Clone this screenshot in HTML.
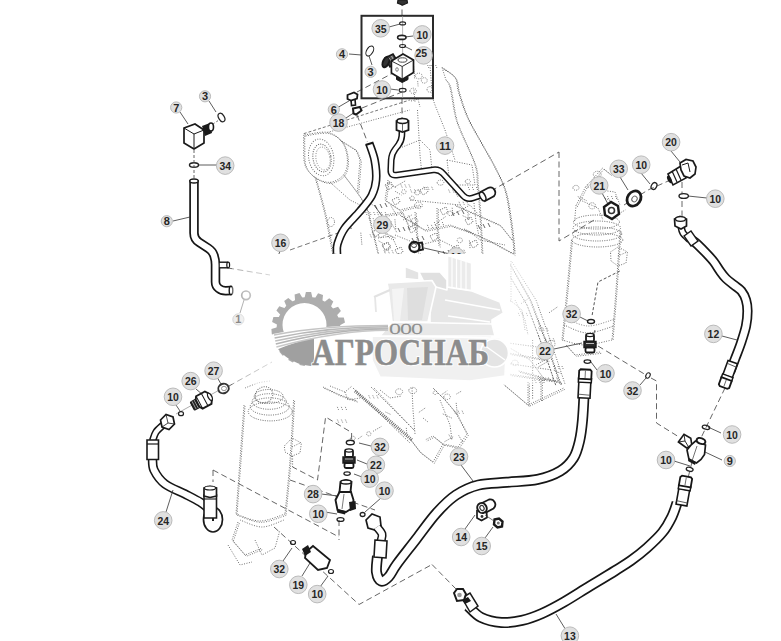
<!DOCTYPE html>
<html><head><meta charset="utf-8"><style>
html,body{margin:0;padding:0;background:#fff;width:781px;height:641px;overflow:hidden}
svg{display:block;font-family:"Liberation Sans",sans-serif}
</style></head><body>
<svg width="781" height="641" viewBox="0 0 781 641">
<rect width="781" height="641" fill="#fff"/>
<path d="M442.0,67.5 C444.2,69.2 452.2,73.3 455.0,77.5 C457.8,81.7 456.5,85.8 458.6,92.4 C460.7,99.1 463.4,108.7 467.4,117.4 C471.3,126.1 477.7,136.5 482.3,144.8 C486.9,153.1 491.1,159.8 494.8,167.3 C498.6,174.8 502.3,181.8 504.8,189.7 C507.3,197.6 508.4,206.6 509.8,215.0 C511.2,223.4 512.3,233.3 513.0,240.0 C513.7,246.7 513.8,252.5 514.0,255.0" fill="none" stroke="#555" stroke-width="1.0" stroke-dasharray="1,1.5"/>
<path d="M443.1,68.6 C445.3,70.3 453.4,74.5 456.1,78.6 C458.9,82.8 457.7,86.9 459.7,93.5 C461.8,100.2 464.6,109.8 468.5,118.5 C472.5,127.3 478.9,137.6 483.4,145.9 C488.0,154.2 492.2,160.9 495.9,168.4 C499.7,175.9 503.4,182.9 505.9,190.8 C508.4,198.8 509.6,207.7 510.9,216.1 C512.3,224.5 513.4,234.5 514.1,241.1 C514.8,247.8 515.0,253.6 515.1,256.1" fill="none" stroke="#555" stroke-width="1.0" stroke-dasharray="1,1.5"/>
<path d="M446.0,80.0 C446.7,81.2 448.5,81.6 450.0,87.4 C451.5,93.2 453.3,107.9 455.0,115.0 C456.7,122.1 456.7,121.7 460.0,130.0 C463.3,138.3 472.1,155.8 475.0,165.0 C477.9,174.2 476.6,176.7 477.4,185.0 C478.2,193.3 479.2,203.3 480.0,215.0 C480.8,226.7 481.7,248.3 482.0,255.0" fill="none" stroke="#707070" stroke-width="1.0" stroke-dasharray="1,1.5"/>
<path d="M447.0,81.0 C447.6,82.2 449.5,82.5 451.0,88.4 C452.5,94.2 454.3,108.9 456.0,116.0 C457.6,123.1 457.6,122.6 461.0,131.0 C464.3,139.3 473.1,156.8 476.0,166.0 C478.9,175.1 477.5,177.6 478.4,186.0 C479.2,194.3 480.2,204.3 481.0,216.0 C481.7,227.6 482.6,249.3 483.0,256.0" fill="none" stroke="#707070" stroke-width="1.0" stroke-dasharray="1,1.5"/>
<path d="M442.0,67.5 L446.0,80.0" fill="none" stroke="#707070" stroke-width="1.0" stroke-dasharray="1,1.5"/>
<path d="M430.0,65.0 L432.4,97.4 L435.0,105.0 L445.0,130.0 L455.0,160.0" fill="none" stroke="#707070" stroke-width="1.0" stroke-dasharray="1,1.5"/>
<path d="M417.5,110.0 L420.0,155.0 L422.0,175.0" fill="none" stroke="#707070" stroke-width="1.0" stroke-dasharray="1,1.5"/>
<path d="M447.0,160.0 L472.0,165.0 L475.0,185.0 L450.0,185.0 L447.0,160.0" fill="none" stroke="#707070" stroke-width="1.0" stroke-dasharray="1,1.5"/>
<path d="M411.0,101.0 L418.0,99.0 L420.0,107.0" fill="none" stroke="#707070" stroke-width="1.0" stroke-dasharray="1,1.5"/>
<path d="M303.7,135.0 C303.7,136.7 303.5,140.0 303.7,145.0 C303.9,150.0 303.1,159.6 305.0,165.0 C306.9,170.4 310.8,174.4 315.0,177.3 C319.2,180.2 325.2,182.7 330.0,182.3 C334.8,181.9 340.7,178.5 343.6,174.8 C346.5,171.1 347.6,165.4 347.4,160.0 C347.2,154.6 345.7,147.0 342.4,142.4 C339.1,137.8 333.8,133.6 327.4,132.4 C320.9,131.2 307.6,134.6 303.7,135.0" fill="none" stroke="#707070" stroke-width="1.0" stroke-dasharray="1,1.5"/>
<path d="M304.8,136.1 C304.8,137.7 304.5,141.1 304.8,146.1 C305.0,151.1 304.2,160.7 306.1,166.1 C307.9,171.4 311.9,175.5 316.1,178.4 C320.2,181.2 326.3,183.8 331.1,183.4 C335.8,182.9 341.8,179.6 344.7,175.9 C347.6,172.1 348.6,166.5 348.4,161.1 C348.2,155.7 346.8,148.1 343.4,143.5 C340.1,138.9 334.9,134.7 328.4,133.5 C322.0,132.2 308.7,135.6 304.8,136.1" fill="none" stroke="#707070" stroke-width="1.0" stroke-dasharray="1,1.5"/>
<ellipse cx="321.2" cy="157.4" rx="12.5" ry="18.5" transform="rotate(-10 321.2 157.4)" fill="none" stroke="#707070" stroke-width="1" stroke-dasharray="1,1.5"/>
<ellipse cx="322" cy="158" rx="9" ry="14" transform="rotate(-10 322 158)" fill="none" stroke="#606060" stroke-width="1" stroke-dasharray="1,1.3"/>
<ellipse cx="323" cy="158.5" rx="7" ry="11.5" transform="rotate(-10 323 158.5)" fill="none" stroke="#808080" stroke-width="0.9" stroke-dasharray="1,1.5"/>
<path d="M303.7,133.7 L409.8,100.0" fill="none" stroke="#777" stroke-width="1.0" stroke-dasharray="3,2"/>
<path d="M327.4,132.4 L409.8,110.0" fill="none" stroke="#777" stroke-width="1.0" stroke-dasharray="1,1.5"/>
<path d="M340.0,140.0 L356.0,150.0 L360.0,160.0 L357.4,192.3" fill="none" stroke="#707070" stroke-width="1.0" stroke-dasharray="1,1.5"/>
<path d="M341.3,141.3 L357.3,151.3 L361.3,161.3 L358.7,193.6" fill="none" stroke="#707070" stroke-width="1.0" stroke-dasharray="1,1.5"/>
<path d="M315.0,177.3 C316.7,183.6 321.9,201.1 325.0,214.8 C328.1,228.5 332.2,252.2 333.7,259.7" fill="none" stroke="#707070" stroke-width="1.0" stroke-dasharray="1,1.5"/>
<path d="M316.3,178.6 C317.9,184.8 323.1,202.3 326.3,216.1 C329.4,229.8 333.5,253.5 335.0,261.0" fill="none" stroke="#707070" stroke-width="1.0" stroke-dasharray="1,1.5"/>
<path d="M343.6,174.8 C347.2,179.8 360.2,195.6 364.9,204.8 C369.6,214.0 369.8,221.8 372.0,230.0 C374.2,238.2 377.0,250.0 378.0,254.0" fill="none" stroke="#707070" stroke-width="1.0" stroke-dasharray="1,1.5"/>
<path d="M344.5,175.7 C348.1,180.7 361.1,196.5 365.8,205.7 C370.5,214.9 370.7,222.7 372.9,230.9 C375.1,239.1 377.9,250.9 378.9,254.9" fill="none" stroke="#707070" stroke-width="1.0" stroke-dasharray="1,1.5"/>
<path d="M330.0,182.3 L350.0,200.0 L360.0,205.0" fill="none" stroke="#707070" stroke-width="1.0" stroke-dasharray="1,1.5"/>
<ellipse cx="331" cy="222" rx="3.5" ry="4.5" fill="none" stroke="#707070" stroke-width="1" stroke-dasharray="1,1.3"/>
<path d="M290.0,250.0 L352.0,228.0" fill="none" stroke="#666" stroke-width="0.9" stroke-dasharray="5,3"/>
<path d="M388.0,180.0 L385.0,200.0 L400.0,210.0 L420.0,205.0" fill="none" stroke="#707070" stroke-width="1.0" stroke-dasharray="1,1.5"/>
<path d="M389.3,181.3 L386.3,201.3 L401.3,211.3 L421.3,206.3" fill="none" stroke="#707070" stroke-width="1.0" stroke-dasharray="1,1.5"/>
<path d="M395.0,150.0 L420.0,140.0 L430.0,150.0 L432.0,170.0" fill="none" stroke="#707070" stroke-width="1.0" stroke-dasharray="1,1.5"/>
<path d="M385.0,215.0 L402.0,212.0 L408.0,225.0" fill="none" stroke="#707070" stroke-width="1.0" stroke-dasharray="1,1.5"/>
<path d="M386.3,216.3 L403.3,213.3 L409.3,226.3" fill="none" stroke="#707070" stroke-width="1.0" stroke-dasharray="1,1.5"/>
<path d="M400.0,215.0 L425.0,230.0 L450.0,225.0 L470.0,232.0" fill="none" stroke="#707070" stroke-width="1.0" stroke-dasharray="1,1.5"/>
<path d="M401.3,216.3 L426.3,231.3 L451.3,226.3 L471.3,233.3" fill="none" stroke="#707070" stroke-width="1.0" stroke-dasharray="1,1.5"/>
<path d="M410.0,200.0 L460.0,205.0 L470.0,215.0" fill="none" stroke="#707070" stroke-width="1.0" stroke-dasharray="1,1.5"/>
<path d="M395.0,235.0 L420.0,245.0 L440.0,240.0 L460.0,250.0" fill="none" stroke="#707070" stroke-width="1.0" stroke-dasharray="1,1.5"/>
<path d="M378.0,238.0 L392.0,236.0 L398.0,250.0" fill="none" stroke="#707070" stroke-width="1.0" stroke-dasharray="1,1.5"/>
<path d="M455.0,205.0 L500.0,225.0 L512.0,240.0" fill="none" stroke="#707070" stroke-width="1.0" stroke-dasharray="1,1.5"/>
<path d="M456.3,206.3 L501.3,226.3 L513.3,241.3" fill="none" stroke="#707070" stroke-width="1.0" stroke-dasharray="1,1.5"/>
<path d="M470.0,232.0 L480.0,240.0 L505.0,245.0" fill="none" stroke="#707070" stroke-width="1.0" stroke-dasharray="1,1.5"/>
<path d="M372,232 l6,-3 l2,5 l-5,3 z" fill="none" stroke="#666" stroke-width="1" stroke-dasharray="1,1.2"/>
<path d="M382,245 l6,-3 l2,5 l-5,3 z" fill="none" stroke="#666" stroke-width="1" stroke-dasharray="1,1.2"/>
<path d="M430,236 l6,-3 l2,5 l-5,3 z" fill="none" stroke="#666" stroke-width="1" stroke-dasharray="1,1.2"/>
<path d="M452,248 l6,-3 l2,5 l-5,3 z" fill="none" stroke="#666" stroke-width="1" stroke-dasharray="1,1.2"/>
<path d="M392,200 l6,-3 l2,5 l-5,3 z" fill="none" stroke="#666" stroke-width="1" stroke-dasharray="1,1.2"/>
<path d="M470,243 l6,-3 l2,5 l-5,3 z" fill="none" stroke="#666" stroke-width="1" stroke-dasharray="1,1.2"/>
<path d="M420,190 l6,-3 l2,5 l-5,3 z" fill="none" stroke="#666" stroke-width="1" stroke-dasharray="1,1.2"/>
<path d="M408,228 l6,-3 l2,5 l-5,3 z" fill="none" stroke="#666" stroke-width="1" stroke-dasharray="1,1.2"/>
<path d="M440,210 l6,-3 l2,5 l-5,3 z" fill="none" stroke="#666" stroke-width="1" stroke-dasharray="1,1.2"/>
<path d="M395,250 l6,-3 l2,5 l-5,3 z" fill="none" stroke="#666" stroke-width="1" stroke-dasharray="1,1.2"/>
<path d="M465,220 l6,-3 l2,5 l-5,3 z" fill="none" stroke="#666" stroke-width="1" stroke-dasharray="1,1.2"/>
<path d="M385,185 l6,-3 l2,5 l-5,3 z" fill="none" stroke="#666" stroke-width="1" stroke-dasharray="1,1.2"/>
<path d="M375,205 l2,4 m3,-5 l2,4 m3,-5 l2,4" fill="none" stroke="#555" stroke-width="0.9"/>
<path d="M398,228 l2,4 m3,-5 l2,4 m3,-5 l2,4" fill="none" stroke="#555" stroke-width="0.9"/>
<path d="M452,212 l2,4 m3,-5 l2,4 m3,-5 l2,4" fill="none" stroke="#555" stroke-width="0.9"/>
<path d="M478,225 l2,4 m3,-5 l2,4 m3,-5 l2,4" fill="none" stroke="#555" stroke-width="0.9"/>
<path d="M412,238 l2,4 m3,-5 l2,4 m3,-5 l2,4" fill="none" stroke="#555" stroke-width="0.9"/>
<path d="M438,252 l2,4 m3,-5 l2,4 m3,-5 l2,4" fill="none" stroke="#555" stroke-width="0.9"/>
<path d="M388,255 l2,4 m3,-5 l2,4 m3,-5 l2,4" fill="none" stroke="#555" stroke-width="0.9"/>
<path d="M410.5,189.5 l1.5,3.5 m2.5,-3.5 l1.5,3.5 m2.5,-3.5 l1.5,3.5 M388.4,218.7 l2.8,4.8 M400.9,184.5 l1.5,3.5 m2.5,-3.5 l1.5,3.5 m2.5,-3.5 l1.5,3.5 M403.2,219.9 l8.7,-5.0 M437.5,222.3 l8.4,-5.9 M465.3,181.5 a2.6,2.1 0 1,0 5.2,0 a2.6,2.1 0 1,0 -5.2,0 M394.7,187.0 l10.7,-6.2 M391.1,221.4 l0.5,5.9 M387.5,182.5 l9.6,5.6 M447.7,213.4 a2.7,2.2 0 1,0 5.4,0 a2.7,2.2 0 1,0 -5.4,0 M401.7,191.7 a2.2,1.7 0 1,0 4.3,0 a2.2,1.7 0 1,0 -4.3,0 M408.4,215.6 l4.5,7.8 M468.3,187.0 l1.5,3.5 m2.5,-3.5 l1.5,3.5 m2.5,-3.5 l1.5,3.5 M448.6,189.6 l1.5,3.5 m2.5,-3.5 l1.5,3.5 m2.5,-3.5 l1.5,3.5 M382.3,228.8 a3.1,2.5 0 1,0 6.3,0 a3.1,2.5 0 1,0 -6.3,0 M459.0,201.8 l1.5,3.5 m2.5,-3.5 l1.5,3.5 m2.5,-3.5 l1.5,3.5 M434.3,222.1 l1.5,3.5 m2.5,-3.5 l1.5,3.5 m2.5,-3.5 l1.5,3.5 M455.9,249.8 l1.5,3.5 m2.5,-3.5 l1.5,3.5 m2.5,-3.5 l1.5,3.5 M437.2,182.6 a3.3,2.6 0 1,0 6.6,0 a3.3,2.6 0 1,0 -6.6,0 M469.4,240.5 l0.7,8.4 M412.5,249.5 l9.1,5.2 M387.2,236.4 l6.3,3.6 M462.7,215.7 l7.8,3.6 M457.2,240.3 a2.6,2.0 0 1,0 5.1,0 a2.6,2.0 0 1,0 -5.1,0 M414.6,205.3 a3.9,3.1 0 1,0 7.8,0 a3.9,3.1 0 1,0 -7.8,0 M395.3,191.4 l6.1,3.6 M455.1,191.9 l3.2,5.5 M411.1,221.0 a3.4,2.7 0 1,0 6.8,0 a3.4,2.7 0 1,0 -6.8,0 M427.4,224.9 l1.5,3.5 m2.5,-3.5 l1.5,3.5 m2.5,-3.5 l1.5,3.5 M383.0,246.4 a3.7,3.0 0 1,0 7.5,0 a3.7,3.0 0 1,0 -7.5,0 M452.2,207.8 l0.5,5.9 M414.4,192.5 a2.9,2.3 0 1,0 5.8,0 a2.9,2.3 0 1,0 -5.8,0 M391.7,223.7 l5.1,8.7 M390.9,205.6 l6.4,11.1 M411.9,226.2 a3.2,2.6 0 1,0 6.4,0 a3.2,2.6 0 1,0 -6.4,0 M423.7,186.8 l1.5,3.5 m2.5,-3.5 l1.5,3.5 m2.5,-3.5 l1.5,3.5 M468.0,214.5 l0.5,6.3 M409.8,198.1 a2.3,1.9 0 1,0 4.6,0 a2.3,1.9 0 1,0 -4.6,0 M384.0,250.3 l1.5,3.5 m2.5,-3.5 l1.5,3.5 m2.5,-3.5 l1.5,3.5 M394.9,219.3 l0.9,9.7" fill="none" stroke="#6a6a6a" stroke-width="0.9" stroke-dasharray="1,1.2"/>
<path d="M464.0,229.0 L490.0,241.0 L514.0,254.0" fill="none" stroke="#666" stroke-width="1.0" stroke-dasharray="1,1.5"/>
<path d="M465.3,230.3 L491.3,242.3 L515.3,255.3" fill="none" stroke="#666" stroke-width="1.0" stroke-dasharray="1,1.5"/>
<path d="M415.0,212.0 L416.0,230.0 L418.0,248.0" fill="none" stroke="#707070" stroke-width="1.0" stroke-dasharray="1,1.5"/>
<path d="M416.3,213.3 L417.3,231.3 L419.3,249.3" fill="none" stroke="#707070" stroke-width="1.0" stroke-dasharray="1,1.5"/>
<path d="M437.0,208.0 L437.0,228.0 L439.0,246.0" fill="none" stroke="#707070" stroke-width="1.0" stroke-dasharray="1,1.5"/>
<path d="M438.3,209.3 L438.3,229.3 L440.3,247.3" fill="none" stroke="#707070" stroke-width="1.0" stroke-dasharray="1,1.5"/>
<path d="M474.0,203.0 L476.0,222.0 L479.0,236.0" fill="none" stroke="#707070" stroke-width="1.0" stroke-dasharray="1,1.5"/>
<path d="M452.0,215.0 L470.0,205.0 L478.0,214.0" fill="none" stroke="#707070" stroke-width="1.0" stroke-dasharray="1,1.5"/>
<path d="M380.9,237.6 l7.2,-4.2 M365.7,212.0 l1.5,3.5 m2.5,-3.5 l1.5,3.5 m2.5,-3.5 l1.5,3.5 M370.1,234.4 l1.5,3.5 m2.5,-3.5 l1.5,3.5 m2.5,-3.5 l1.5,3.5 M378.7,240.9 l6.2,3.6 M377.2,212.2 l1.5,3.5 m2.5,-3.5 l1.5,3.5 m2.5,-3.5 l1.5,3.5 M365.7,201.6 l6.8,3.2 M360.8,232.7 l1.1,12.2 M384.6,251.6 l6.0,-3.5 M369.1,218.2 l1.5,3.5 m2.5,-3.5 l1.5,3.5 m2.5,-3.5 l1.5,3.5 M384.6,233.0 l11.9,5.6" fill="none" stroke="#6a6a6a" stroke-width="0.9" stroke-dasharray="1,1.2"/>
<path d="M427.6,65.0 l1.5,3.5 m2.5,-3.5 l1.5,3.5 m2.5,-3.5 l1.5,3.5 M427.1,89.4 a3.0,2.4 0 1,0 5.9,0 a3.0,2.4 0 1,0 -5.9,0 M413.9,89.6 l1.1,12.2 M415.3,76.0 a3.4,2.8 0 1,0 6.9,0 a3.4,2.8 0 1,0 -6.9,0 M413.7,66.4 l1.1,13.1 M409.9,90.9 a3.3,2.7 0 1,0 6.6,0 a3.3,2.7 0 1,0 -6.6,0 M417.7,81.2 l0.4,5.1 M421.4,80.4 a2.9,2.3 0 1,0 5.7,0 a2.9,2.3 0 1,0 -5.7,0" fill="none" stroke="#6a6a6a" stroke-width="0.9" stroke-dasharray="1,1.2"/>
<path d="M553.8,370.2 l6.6,3.1 M536.1,364.9 l8.6,-4.9 M511.6,362.9 a3.3,2.7 0 1,0 6.6,0 a3.3,2.7 0 1,0 -6.6,0 M547.4,343.9 a3.8,3.0 0 1,0 7.5,0 a3.8,3.0 0 1,0 -7.5,0 M518.3,312.9 l1.5,3.5 m2.5,-3.5 l1.5,3.5 m2.5,-3.5 l1.5,3.5 M553.9,366.0 l1.5,3.5 m2.5,-3.5 l1.5,3.5 m2.5,-3.5 l1.5,3.5 M549.2,312.7 l8.7,-6.1 M538.7,327.7 l1.5,3.5 m2.5,-3.5 l1.5,3.5 m2.5,-3.5 l1.5,3.5 M538.7,366.7 l8.7,-5.0 M521.2,303.6 l7.4,-5.2 M548.5,377.6 l1.5,3.5 m2.5,-3.5 l1.5,3.5 m2.5,-3.5 l1.5,3.5 M541.4,343.0 l1.5,3.5 m2.5,-3.5 l1.5,3.5 m2.5,-3.5 l1.5,3.5 M545.3,338.4 l1.5,3.5 m2.5,-3.5 l1.5,3.5 m2.5,-3.5 l1.5,3.5 M534.9,380.0 l1.5,3.5 m2.5,-3.5 l1.5,3.5 m2.5,-3.5 l1.5,3.5" fill="none" stroke="#6a6a6a" stroke-width="0.9" stroke-dasharray="1,1.2"/>
<path d="M444.6,441.7 l8.7,-5.0 M440.0,395.8 l7.4,-5.2 M418.9,412.4 l6.3,-4.4 M443.8,396.8 a3.3,2.7 0 1,0 6.6,0 a3.3,2.7 0 1,0 -6.6,0 M350.4,438.3 a2.4,2.0 0 1,0 4.9,0 a2.4,2.0 0 1,0 -4.9,0 M454.1,410.7 l1.5,3.5 m2.5,-3.5 l1.5,3.5 m2.5,-3.5 l1.5,3.5 M458.7,435.4 l4.4,7.7 M385.5,412.0 l5.3,2.5 M337.4,419.6 l1.5,3.5 m2.5,-3.5 l1.5,3.5 m2.5,-3.5 l1.5,3.5 M337.3,406.9 l1.5,3.5 m2.5,-3.5 l1.5,3.5 m2.5,-3.5 l1.5,3.5 M395.5,391.7 a3.6,2.9 0 1,0 7.2,0 a3.6,2.9 0 1,0 -7.2,0 M456.5,394.0 l4.6,-2.7 M368.8,395.4 l1.5,3.5 m2.5,-3.5 l1.5,3.5 m2.5,-3.5 l1.5,3.5 M448.9,434.7 l3.2,5.5 M406.3,427.9 l0.5,5.5 M357.9,439.0 l4.2,-3.0 M433.1,392.8 a2.1,1.7 0 1,0 4.3,0 a2.1,1.7 0 1,0 -4.3,0 M442.8,413.9 l9.0,4.2 M408.8,390.5 a3.9,3.1 0 1,0 7.8,0 a3.9,3.1 0 1,0 -7.8,0 M456.2,402.9 l1.2,13.3 M373.1,431.3 l8.2,-4.8 M366.7,433.8 a2.1,1.7 0 1,0 4.1,0 a2.1,1.7 0 1,0 -4.1,0" fill="none" stroke="#6a6a6a" stroke-width="0.9" stroke-dasharray="1,1.2"/>
<path d="M572.9,187.8 a3.0,2.4 0 1,0 6.1,0 a3.0,2.4 0 1,0 -6.1,0 M587.3,184.6 l1.5,3.5 m2.5,-3.5 l1.5,3.5 m2.5,-3.5 l1.5,3.5 M607.5,196.1 l1.5,3.5 m2.5,-3.5 l1.5,3.5 m2.5,-3.5 l1.5,3.5 M619.4,213.4 l6.0,-3.5 M588.9,205.8 a3.3,2.6 0 1,0 6.5,0 a3.3,2.6 0 1,0 -6.5,0 M595.2,179.1 l5.1,-3.5 M606.3,208.4 l1.5,3.5 m2.5,-3.5 l1.5,3.5 m2.5,-3.5 l1.5,3.5 M577.8,196.6 l8.7,4.0 M604.9,198.1 l6.0,2.8 M593.3,174.5 a3.9,3.2 0 1,0 7.9,0 a3.9,3.2 0 1,0 -7.9,0" fill="none" stroke="#6a6a6a" stroke-width="0.9" stroke-dasharray="1,1.2"/>
<path d="M323.0,387.0 L340.0,395.0 L357.0,401.0" fill="none" stroke="#707070" stroke-width="1.0" stroke-dasharray="1,1.5"/>
<path d="M324.3,388.3 L341.3,396.3 L358.3,402.3" fill="none" stroke="#707070" stroke-width="1.0" stroke-dasharray="1,1.5"/>
<path d="M330.0,386.0 L345.0,392.0 L352.0,386.0" fill="none" stroke="#707070" stroke-width="1.0" stroke-dasharray="1,1.5"/>
<path d="M355,391 L412,440" stroke="#666" stroke-width="3.2" stroke-dasharray="0.9,1.1" fill="none"/>
<path d="M353.0,388.0 L410.0,443.0" fill="none" stroke="#555" stroke-width="1.0" stroke-dasharray="1,1.5"/>
<path d="M371.0,387.0 L415.0,431.0" fill="none" stroke="#666" stroke-width="1.0" stroke-dasharray="1,1.5"/>
<path d="M374.0,388.0 L395.0,410.0 L415.0,431.0" fill="none" stroke="#707070" stroke-width="1.0" stroke-dasharray="1,1.5"/>
<path d="M412.0,388.0 L413.0,410.0 L415.0,434.0" fill="none" stroke="#707070" stroke-width="1.0" stroke-dasharray="1,1.5"/>
<path d="M410.0,439.0 L420.0,452.0 L433.0,462.0 L443.0,444.0 L433.0,436.0 L425.0,440.0" fill="none" stroke="#707070" stroke-width="1.0" stroke-dasharray="1,1.5"/>
<path d="M411.3,440.3 L421.3,453.3 L434.3,463.3 L444.3,445.3 L434.3,437.3 L426.3,441.3" fill="none" stroke="#707070" stroke-width="1.0" stroke-dasharray="1,1.5"/>
<path d="M433.0,388.0 L445.0,400.0 L456.0,413.0 L467.0,434.0 L458.0,447.0 L443.0,444.0" fill="none" stroke="#707070" stroke-width="1.0" stroke-dasharray="1,1.5"/>
<path d="M434.3,389.3 L446.3,401.3 L457.3,414.3 L468.3,435.3 L459.3,448.3 L444.3,445.3" fill="none" stroke="#707070" stroke-width="1.0" stroke-dasharray="1,1.5"/>
<path d="M440.0,400.0 L450.0,425.0 L452.0,440.0" fill="none" stroke="#707070" stroke-width="1.0" stroke-dasharray="1,1.5"/>
<path d="M380.0,390.0 L390.0,398.0 L402.0,396.0" fill="none" stroke="#707070" stroke-width="1.0" stroke-dasharray="1,1.5"/>
<path d="M345.0,392.0 L348.0,400.0 L360.0,398.0" fill="none" stroke="#707070" stroke-width="1.0" stroke-dasharray="1,1.5"/>
<path d="M423.0,418.0 L428.0,422.0" fill="none" stroke="#707070" stroke-width="1.0" stroke-dasharray="1,1.5"/>
<path d="M508.0,261.0 L530.0,300.0 L545.0,340.0 L560.0,384.0" fill="none" stroke="#555" stroke-width="1.0" stroke-dasharray="1,1.5"/>
<path d="M509.3,262.3 L531.3,301.3 L546.3,341.3 L561.3,385.3" fill="none" stroke="#555" stroke-width="1.0" stroke-dasharray="1,1.5"/>
<path d="M505.0,268.0 L527.0,305.0 L542.0,345.0 L556.0,386.0" fill="none" stroke="#666" stroke-width="1.0" stroke-dasharray="2,1"/>
<path d="M512.0,262.0 L536.0,300.0 L552.0,345.0 L565.0,384.0" fill="none" stroke="#707070" stroke-width="1.0" stroke-dasharray="1,1.5"/>
<path d="M511.0,261.0 L511.0,302.0" fill="none" stroke="#707070" stroke-width="1.0" stroke-dasharray="1,1.5"/>
<path d="M503.7,384.4 L528.0,405.0 L563.7,388.0" fill="none" stroke="#707070" stroke-width="1.0" stroke-dasharray="1,1.5"/>
<path d="M505.0,385.7 L529.3,406.3 L565.0,389.3" fill="none" stroke="#707070" stroke-width="1.0" stroke-dasharray="1,1.5"/>
<path d="M528.0,382.0 L528.0,405.0" fill="none" stroke="#707070" stroke-width="1.0" stroke-dasharray="1,1.5"/>
<path d="M529.3,383.3 L529.3,406.3" fill="none" stroke="#707070" stroke-width="1.0" stroke-dasharray="1,1.5"/>
<path d="M541.0,378.7 L541.0,401.0" fill="none" stroke="#707070" stroke-width="1.0" stroke-dasharray="1,1.5"/>
<path d="M542.3,380.0 L542.3,402.3" fill="none" stroke="#707070" stroke-width="1.0" stroke-dasharray="1,1.5"/>
<path d="M518.7,371.0 L561.8,382.5" fill="none" stroke="#707070" stroke-width="1.0" stroke-dasharray="1,1.5"/>
<path d="M520.0,372.3 L563.1,383.8" fill="none" stroke="#707070" stroke-width="1.0" stroke-dasharray="1,1.5"/>
<path d="M508.0,343.0 L545.0,348.0 L552.0,352.0" fill="none" stroke="#707070" stroke-width="1.0" stroke-dasharray="1,1.5"/>
<path d="M508.0,353.0 L548.0,360.0" fill="none" stroke="#707070" stroke-width="1.0" stroke-dasharray="1,1.5"/>
<path d="M509.3,354.3 L549.3,361.3" fill="none" stroke="#707070" stroke-width="1.0" stroke-dasharray="1,1.5"/>
<path d="M508.0,363.5 L552.0,370.0" fill="none" stroke="#707070" stroke-width="1.0" stroke-dasharray="1,1.5"/>
<path d="M508.0,374.0 L556.0,381.0" fill="none" stroke="#707070" stroke-width="1.0" stroke-dasharray="1,1.5"/>
<path d="M509.3,375.3 L557.3,382.3" fill="none" stroke="#707070" stroke-width="1.0" stroke-dasharray="1,1.5"/>
<path d="M532.6,340.0 L532.6,400.0" fill="none" stroke="#707070" stroke-width="1.0" stroke-dasharray="1,1.5"/>
<path d="M510.0,300.0 L522.0,310.0 L525.0,330.0" fill="none" stroke="#707070" stroke-width="1.0" stroke-dasharray="1,1.5"/>
<path d="M505.0,345.0 L530.0,360.0 L545.0,380.0" fill="none" stroke="#707070" stroke-width="1.0" stroke-dasharray="1,1.5"/>
<path d="M515.0,300.0 L525.0,320.0 L528.0,335.0" fill="none" stroke="#707070" stroke-width="1.0" stroke-dasharray="1,1.5"/>
<path d="M571.5,240.0 C570.8,248.3 568.6,273.3 567.0,290.0 C565.4,306.7 562.8,331.7 562.0,340.0" fill="none" stroke="#707070" stroke-width="1.0" stroke-dasharray="1,1.5"/>
<path d="M572.5,241.0 C571.7,249.3 569.6,274.3 568.0,291.0 C566.4,307.6 563.8,332.6 563.0,341.0" fill="none" stroke="#707070" stroke-width="1.0" stroke-dasharray="1,1.5"/>
<path d="M620.0,230.5 C619.3,240.4 617.3,271.8 616.0,290.0 C614.7,308.2 612.7,331.7 612.0,340.0" fill="none" stroke="#707070" stroke-width="1.0" stroke-dasharray="1,1.5"/>
<path d="M621.0,231.5 C620.3,241.4 618.3,272.7 617.0,291.0 C615.6,309.2 613.6,332.6 613.0,341.0" fill="none" stroke="#707070" stroke-width="1.0" stroke-dasharray="1,1.5"/>
<ellipse cx="596.5" cy="222" rx="23.0" ry="7" fill="none" stroke="#666" stroke-width="1" stroke-dasharray="1,1.3"/>
<ellipse cx="596.8" cy="228" rx="23.8" ry="7" fill="none" stroke="#666" stroke-width="1" stroke-dasharray="1,1.3"/>
<ellipse cx="597.1" cy="234" rx="24.6" ry="7" fill="none" stroke="#666" stroke-width="1" stroke-dasharray="1,1.3"/>
<ellipse cx="597.4" cy="240" rx="25.4" ry="7" fill="none" stroke="#666" stroke-width="1" stroke-dasharray="1,1.3"/>
<path d="M585.5,187.0 L602.7,168.0 L610.5,174.3" fill="none" stroke="#707070" stroke-width="1.0" stroke-dasharray="1,1.5"/>
<path d="M586.8,188.3 L604.0,169.3 L611.8,175.6" fill="none" stroke="#707070" stroke-width="1.0" stroke-dasharray="1,1.5"/>
<path d="M576.0,205.5 L585.5,187.0" fill="none" stroke="#707070" stroke-width="1.0" stroke-dasharray="1,1.5"/>
<path d="M577.3,206.8 L586.8,188.3" fill="none" stroke="#707070" stroke-width="1.0" stroke-dasharray="1,1.5"/>
<path d="M574.6,221.0 L576.0,205.5" fill="none" stroke="#707070" stroke-width="1.0" stroke-dasharray="1,1.5"/>
<path d="M600.0,190.0 L615.0,192.0 L620.0,205.0" fill="none" stroke="#707070" stroke-width="1.0" stroke-dasharray="1,1.5"/>
<path d="M580.0,200.0 L598.0,208.0 L603.0,220.0" fill="none" stroke="#707070" stroke-width="1.0" stroke-dasharray="1,1.5"/>
<path d="M610.5,252.0 L618.0,247.0 L627.5,252.0 L626.0,263.0 L618.0,266.0 L611.0,261.0 L610.5,252.0" fill="none" stroke="#707070" stroke-width="1.0" stroke-dasharray="1,1.5"/>
<path d="M618.0,256.0 L627.0,252.0" fill="none" stroke="#707070" stroke-width="1.0" stroke-dasharray="1,1.5"/>
<path d="M619.8,271.0 L598.0,282.0 L591.8,317.0" fill="none" stroke="#555" stroke-width="1.0" stroke-dasharray="3,2"/>
<path d="M562.0,340.0 C565.8,340.8 576.7,345.0 585.0,345.0 C593.3,345.0 607.5,340.8 612.0,340.0" fill="none" stroke="#707070" stroke-width="1.0" stroke-dasharray="1,1.5"/>
<path d="M564.0,325.0 C567.8,326.3 578.7,332.8 587.0,333.0 C595.3,333.2 609.5,327.2 614.0,326.0" fill="none" stroke="#707070" stroke-width="1.0" stroke-dasharray="1,1.5"/>
<path d="M565.0,318.0 C568.8,319.3 579.7,325.8 588.0,326.0 C596.3,326.2 610.5,320.2 615.0,319.0" fill="none" stroke="#888" stroke-width="1.0" stroke-dasharray="1,1.5"/>
<path d="M566.0,345.0 L575.0,355.0 L600.0,352.0" fill="none" stroke="#707070" stroke-width="1.0" stroke-dasharray="1,1.5"/>
<path d="M567.3,346.3 L576.3,356.3 L601.3,353.3" fill="none" stroke="#707070" stroke-width="1.0" stroke-dasharray="1,1.5"/>
<path d="M244.0,405.0 C243.3,414.2 241.3,441.8 240.0,460.0 C238.7,478.2 236.7,505.0 236.0,514.0" fill="none" stroke="#707070" stroke-width="1.0" stroke-dasharray="1,1.5"/>
<path d="M245.0,406.0 C244.3,415.1 242.3,442.8 241.0,461.0 C239.6,479.1 237.6,506.0 237.0,515.0" fill="none" stroke="#707070" stroke-width="1.0" stroke-dasharray="1,1.5"/>
<path d="M293.6,400.0 C293.0,410.0 291.4,441.0 290.0,460.0 C288.6,479.0 285.8,505.0 285.0,514.0" fill="none" stroke="#707070" stroke-width="1.0" stroke-dasharray="1,1.5"/>
<path d="M294.6,401.0 C294.0,411.0 292.4,442.0 291.0,461.0 C289.5,480.0 286.8,506.0 286.0,515.0" fill="none" stroke="#707070" stroke-width="1.0" stroke-dasharray="1,1.5"/>
<path d="M236.0,514.0 C240.0,515.2 251.8,521.0 260.0,521.0 C268.2,521.0 280.8,515.2 285.0,514.0" fill="none" stroke="#707070" stroke-width="1.0" stroke-dasharray="1,1.5"/>
<path d="M237.3,515.3 C241.3,516.4 253.1,522.3 261.3,522.3 C269.4,522.3 282.1,516.4 286.3,515.3" fill="none" stroke="#707070" stroke-width="1.0" stroke-dasharray="1,1.5"/>
<ellipse cx="270.2" cy="411.5" rx="22.0" ry="9.4" fill="none" stroke="#666" stroke-width="1" stroke-dasharray="1,1.3"/>
<ellipse cx="269.7" cy="406.5" rx="19.5" ry="8.6" fill="none" stroke="#666" stroke-width="1" stroke-dasharray="1,1.3"/>
<ellipse cx="269.2" cy="401.5" rx="17.0" ry="7.800000000000001" fill="none" stroke="#666" stroke-width="1" stroke-dasharray="1,1.3"/>
<ellipse cx="268.7" cy="396.5" rx="14.5" ry="7.0" fill="none" stroke="#666" stroke-width="1" stroke-dasharray="1,1.3"/>
<ellipse cx="264" cy="395" rx="9" ry="8" transform="rotate(-30 264 395)" fill="none" stroke="#666" stroke-width="1" stroke-dasharray="1,1.3"/>
<path d="M245.0,388.0 C247.2,387.2 253.8,384.2 258.0,383.0 C262.2,381.8 268.0,381.3 270.0,381.0" fill="none" stroke="#707070" stroke-width="1.0" stroke-dasharray="1,1.5"/>
<path d="M284.3,446.0 L292.0,438.0 L301.4,443.0 L300.0,453.0 L292.0,456.0 L285.0,452.0 L284.3,446.0" fill="none" stroke="#707070" stroke-width="1.0" stroke-dasharray="1,1.5"/>
<path d="M292.0,447.0 L300.0,443.0" fill="none" stroke="#707070" stroke-width="1.0" stroke-dasharray="1,1.5"/>
<path d="M238.0,522.0 L232.0,540.0 L245.0,555.0 L262.0,548.0" fill="none" stroke="#707070" stroke-width="1.0" stroke-dasharray="1,1.5"/>
<path d="M239.3,523.3 L233.3,541.3 L246.3,556.3 L263.3,549.3" fill="none" stroke="#707070" stroke-width="1.0" stroke-dasharray="1,1.5"/>
<path d="M255.0,540.0 L262.0,555.0 L275.0,548.0 L280.0,530.0" fill="none" stroke="#707070" stroke-width="1.0" stroke-dasharray="1,1.5"/>
<path d="M228.0,545.0 L240.0,565.0 L252.0,562.0" fill="none" stroke="#707070" stroke-width="1.0" stroke-dasharray="1,1.5"/>
<path d="M240.0,520.0 C243.7,521.2 254.7,527.0 262.0,527.0 C269.3,527.0 280.3,521.2 284.0,520.0" fill="none" stroke="#707070" stroke-width="1.0" stroke-dasharray="1,1.5"/>
<path d="M402.0,0.0 L402.0,16.0" fill="none" stroke="#555" stroke-width="0.9" stroke-dasharray="6,3.5"/>
<path d="M402.0,98.0 L402.0,118.0" fill="none" stroke="#555" stroke-width="0.9" stroke-dasharray="6,3.5"/>
<path d="M357.0,92.0 L395.0,72.0" fill="none" stroke="#555" stroke-width="0.9" stroke-dasharray="6,3.5"/>
<path d="M362.0,108.0 L402.0,92.0" fill="none" stroke="#555" stroke-width="0.9" stroke-dasharray="6,3.5"/>
<path d="M357.0,115.0 L367.5,142.0" fill="none" stroke="#555" stroke-width="0.9" stroke-dasharray="6,3.5"/>
<path d="M491.0,191.0 L559.0,152.0" fill="none" stroke="#555" stroke-width="0.9" stroke-dasharray="6,3.5"/>
<path d="M559.0,152.0 L559.0,241.0 L595.0,219.5" fill="none" stroke="#555" stroke-width="0.9" stroke-dasharray="6,3.5"/>
<path d="M624.0,205.0 L648.0,190.0 L675.0,178.0" fill="none" stroke="#555" stroke-width="0.9" stroke-dasharray="6,3.5"/>
<path d="M682.0,182.0 L682.0,218.0" fill="none" stroke="#555" stroke-width="0.9" stroke-dasharray="6,3.5"/>
<path d="M228.0,268.0 L270.0,275.0" fill="none" stroke="#555" stroke-width="0.9" stroke-dasharray="6,3.5"/>
<path d="M595.0,330.0 L592.0,340.0" fill="none" stroke="#555" stroke-width="0.9" stroke-dasharray="6,3.5"/>
<path d="M598.0,346.0 L646.0,375.0" fill="none" stroke="#555" stroke-width="0.9" stroke-dasharray="6,3.5"/>
<ellipse cx="648" cy="375.5" rx="2" ry="2.8" transform="rotate(30 648 375.5)" fill="none" stroke="#222" stroke-width="1.1"/>
<path d="M651.0,378.0 L656.5,381.0 L656.5,423.0 L679.0,437.0" fill="none" stroke="#555" stroke-width="0.9" stroke-dasharray="6,3.5"/>
<path d="M725.0,388.0 L700.0,440.0" fill="none" stroke="#555" stroke-width="0.9" stroke-dasharray="6,3.5"/>
<path d="M692.0,462.0 L688.0,478.0" fill="none" stroke="#555" stroke-width="0.9" stroke-dasharray="6,3.5"/>
<path d="M229.0,386.0 L272.0,362.0" fill="none" stroke="#555" stroke-width="0.9" stroke-dasharray="6,3.5"/>
<path d="M290.0,480.0 L375.0,510.0" fill="none" stroke="#555" stroke-width="0.9" stroke-dasharray="6,3.5"/>
<path d="M351.6,439.0 L351.6,432.5 L325.6,417.0 L317.5,480.0 L292.6,467.0" fill="none" stroke="#555" stroke-width="0.9" stroke-dasharray="6,3.5"/>
<path d="M292.6,467.0 L292.6,455.0" fill="none" stroke="#707070" stroke-width="1.0" stroke-dasharray="1,1.5"/>
<path d="M213.0,470.0 L213.0,482.0" fill="none" stroke="#555" stroke-width="0.9" stroke-dasharray="6,3.5"/>
<path d="M213.0,470.0 L339.0,537.0" fill="none" stroke="#555" stroke-width="0.9" stroke-dasharray="6,3.5"/>
<path d="M339.0,520.0 L339.0,540.0" fill="none" stroke="#555" stroke-width="0.9" stroke-dasharray="6,3.5"/>
<path d="M274.0,527.0 L359.0,604.5 L432.0,564.5" fill="none" stroke="#555" stroke-width="0.9" stroke-dasharray="6,3.5"/>
<path d="M432.0,564.5 L457.0,590.0" fill="none" stroke="#555" stroke-width="0.9" stroke-dasharray="6,3.5"/>
<path d="M194.0,180.0 L194.0,233.0 Q194.0,239.0 199.0,242.3 L208.5,248.4 Q212.5,251.0 214.0,255.5 L214.0,255.5 Q215.5,260.0 215.5,264.7 L215.5,281.9 Q215.5,286.0 218.8,288.5 L218.8,288.5 Q222.0,291.0 226.1,290.8 L231.0,290.5" fill="none" stroke="#161616" stroke-width="9.5" stroke-linecap="butt" stroke-linejoin="round"/>
<path d="M194.0,180.0 L194.0,233.0 Q194.0,239.0 199.0,242.3 L208.5,248.4 Q212.5,251.0 214.0,255.5 L214.0,255.5 Q215.5,260.0 215.5,264.7 L215.5,281.9 Q215.5,286.0 218.8,288.5 L218.8,288.5 Q222.0,291.0 226.1,290.8 L231.0,290.5" fill="none" stroke="#fff" stroke-width="6.1" stroke-linecap="butt" stroke-linejoin="round"/>
<ellipse cx="194" cy="181" rx="4.2" ry="2" fill="#fff" stroke="#161616" stroke-width="1.3"/>
<ellipse cx="231" cy="290.5" rx="1.8" ry="4.2" fill="#fff" stroke="#161616" stroke-width="1.4"/>
<path d="M220,262.3 L228,262.3 M220,267.7 L228,267.7" stroke="#161616" stroke-width="1.4"/>
<rect x="219.8" y="262.9" width="8.3" height="4.2" fill="#fff"/>
<ellipse cx="228.2" cy="265" rx="1.4" ry="2.8" fill="#fff" stroke="#161616" stroke-width="1.2"/>
<path d="M369.5,144.0 C370.4,146.7 373.6,154.4 374.7,160.4 C375.8,166.4 376.6,174.2 376.1,180.0 C375.6,185.8 374.5,190.3 371.8,195.5 C369.1,200.7 364.7,205.5 360.1,211.0 C355.6,216.5 348.3,223.1 344.5,228.6 C340.7,234.1 338.8,239.8 337.5,244.0 C336.2,248.2 337.1,252.3 337.0,254.0" fill="none" stroke="#161616" stroke-width="8.6" stroke-linecap="butt" stroke-linejoin="round"/>
<path d="M369.5,144.0 C370.4,146.7 373.6,154.4 374.7,160.4 C375.8,166.4 376.6,174.2 376.1,180.0 C375.6,185.8 374.5,190.3 371.8,195.5 C369.1,200.7 364.7,205.5 360.1,211.0 C355.6,216.5 348.3,223.1 344.5,228.6 C340.7,234.1 338.8,239.8 337.5,244.0 C336.2,248.2 337.1,252.3 337.0,254.0" fill="none" stroke="#fff" stroke-width="5.3999999999999995" stroke-linecap="butt" stroke-linejoin="round"/>
<path d="M365.5,145 L373.5,142.5" stroke="#161616" stroke-width="2.2"/>
<path d="M402.0,131.0 L401.8,136.0 Q401.5,141.0 398.4,145.0 L395.2,149.2 Q391.5,154.0 391.2,160.0 L390.8,170.0 Q390.5,176.0 396.4,175.1 L433.1,169.9 Q439.0,169.0 443.0,173.5 L463.0,195.5 Q467.0,200.0 472.7,198.0 L483.0,194.5" fill="none" stroke="#161616" stroke-width="6.8" stroke-linecap="butt" stroke-linejoin="round"/>
<path d="M402.0,131.0 L401.8,136.0 Q401.5,141.0 398.4,145.0 L395.2,149.2 Q391.5,154.0 391.2,160.0 L390.8,170.0 Q390.5,176.0 396.4,175.1 L433.1,169.9 Q439.0,169.0 443.0,173.5 L463.0,195.5 Q467.0,200.0 472.7,198.0 L483.0,194.5" fill="none" stroke="#fff" stroke-width="3.8" stroke-linecap="butt" stroke-linejoin="round"/>
<path d="M692.0,240.0 C692.8,240.7 694.7,241.8 697.0,244.0 C699.3,246.2 703.2,250.0 706.0,253.0 C708.8,256.0 711.7,259.0 714.0,262.0 C716.3,265.0 718.0,268.2 720.0,271.0 C722.0,273.8 723.7,276.2 726.0,278.5 C728.3,280.8 731.4,282.9 734.0,285.0 C736.6,287.1 739.4,288.5 741.4,291.0 C743.4,293.5 745.0,296.7 746.0,300.0 C747.0,303.3 747.5,306.7 747.5,311.0 C747.5,315.3 747.1,320.7 746.0,326.0 C744.9,331.3 742.8,337.5 741.0,343.0 C739.2,348.5 736.8,354.2 735.0,359.0 C733.2,363.8 730.8,369.8 730.0,372.0" fill="none" stroke="#161616" stroke-width="10.2" stroke-linecap="butt" stroke-linejoin="round"/>
<path d="M692.0,240.0 C692.8,240.7 694.7,241.8 697.0,244.0 C699.3,246.2 703.2,250.0 706.0,253.0 C708.8,256.0 711.7,259.0 714.0,262.0 C716.3,265.0 718.0,268.2 720.0,271.0 C722.0,273.8 723.7,276.2 726.0,278.5 C728.3,280.8 731.4,282.9 734.0,285.0 C736.6,287.1 739.4,288.5 741.4,291.0 C743.4,293.5 745.0,296.7 746.0,300.0 C747.0,303.3 747.5,306.7 747.5,311.0 C747.5,315.3 747.1,320.7 746.0,326.0 C744.9,331.3 742.8,337.5 741.0,343.0 C739.2,348.5 736.8,354.2 735.0,359.0 C733.2,363.8 730.8,369.8 730.0,372.0" fill="none" stroke="#fff" stroke-width="6.799999999999999" stroke-linecap="butt" stroke-linejoin="round"/>
<path d="M584.0,395.0 C583.8,399.2 583.2,412.3 582.5,420.0 C581.8,427.7 581.0,434.7 579.5,441.0 C578.0,447.3 576.7,453.0 573.5,458.0 C570.3,463.0 566.3,467.4 560.3,471.0 C554.3,474.6 546.6,477.5 537.7,479.4 C528.8,481.3 516.6,481.4 506.8,482.3 C496.9,483.2 487.1,482.9 478.6,485.0 C470.1,487.1 463.1,490.3 456.0,495.0 C448.9,499.7 442.9,505.9 436.3,513.2 C429.7,520.5 423.2,530.1 416.6,538.6 C410.1,547.1 401.7,557.6 397.0,564.0 C392.3,570.4 391.2,574.2 388.5,577.0 C385.8,579.8 383.0,581.8 381.0,581.0 C379.0,580.2 377.1,576.2 376.5,572.0 C375.9,567.8 377.3,558.7 377.5,556.0" fill="none" stroke="#161616" stroke-width="11" stroke-linecap="butt" stroke-linejoin="round"/>
<path d="M584.0,395.0 C583.8,399.2 583.2,412.3 582.5,420.0 C581.8,427.7 581.0,434.7 579.5,441.0 C578.0,447.3 576.7,453.0 573.5,458.0 C570.3,463.0 566.3,467.4 560.3,471.0 C554.3,474.6 546.6,477.5 537.7,479.4 C528.8,481.3 516.6,481.4 506.8,482.3 C496.9,483.2 487.1,482.9 478.6,485.0 C470.1,487.1 463.1,490.3 456.0,495.0 C448.9,499.7 442.9,505.9 436.3,513.2 C429.7,520.5 423.2,530.1 416.6,538.6 C410.1,547.1 401.7,557.6 397.0,564.0 C392.3,570.4 391.2,574.2 388.5,577.0 C385.8,579.8 383.0,581.8 381.0,581.0 C379.0,580.2 377.1,576.2 376.5,572.0 C375.9,567.8 377.3,558.7 377.5,556.0" fill="none" stroke="#fff" stroke-width="7.6" stroke-linecap="butt" stroke-linejoin="round"/>
<path d="M677.0,503.0 C676.1,505.3 674.2,512.1 671.8,517.0 C669.4,521.9 666.6,527.2 662.4,532.4 C658.2,537.6 652.0,543.3 646.8,548.0 C641.6,552.7 636.2,556.8 631.0,560.5 C625.8,564.2 622.3,566.2 615.5,570.5 C608.7,574.8 598.6,580.8 590.0,586.0 C581.4,591.2 572.0,597.4 564.0,602.0 C556.0,606.6 549.0,610.4 542.0,613.5 C535.0,616.6 528.8,618.9 522.0,620.4 C515.2,621.9 508.3,623.0 501.5,622.5 C494.7,622.0 486.6,620.1 481.0,617.4 C475.4,614.6 470.2,607.9 468.0,606.0" fill="none" stroke="#161616" stroke-width="11" stroke-linecap="butt" stroke-linejoin="round"/>
<path d="M677.0,503.0 C676.1,505.3 674.2,512.1 671.8,517.0 C669.4,521.9 666.6,527.2 662.4,532.4 C658.2,537.6 652.0,543.3 646.8,548.0 C641.6,552.7 636.2,556.8 631.0,560.5 C625.8,564.2 622.3,566.2 615.5,570.5 C608.7,574.8 598.6,580.8 590.0,586.0 C581.4,591.2 572.0,597.4 564.0,602.0 C556.0,606.6 549.0,610.4 542.0,613.5 C535.0,616.6 528.8,618.9 522.0,620.4 C515.2,621.9 508.3,623.0 501.5,622.5 C494.7,622.0 486.6,620.1 481.0,617.4 C475.4,614.6 470.2,607.9 468.0,606.0" fill="none" stroke="#fff" stroke-width="7.6" stroke-linecap="butt" stroke-linejoin="round"/>
<path d="M152.5,458.0 C152.8,460.0 151.9,465.7 154.0,470.0 C156.1,474.3 159.8,480.0 165.0,484.0 C170.2,488.0 179.2,491.0 185.0,494.0 C190.8,497.0 196.2,499.7 200.0,502.0 C203.8,504.3 206.7,507.0 208.0,508.0" fill="none" stroke="#161616" stroke-width="9.5" stroke-linecap="butt" stroke-linejoin="round"/>
<path d="M152.5,458.0 C152.8,460.0 151.9,465.7 154.0,470.0 C156.1,474.3 159.8,480.0 165.0,484.0 C170.2,488.0 179.2,491.0 185.0,494.0 C190.8,497.0 196.2,499.7 200.0,502.0 C203.8,504.3 206.7,507.0 208.0,508.0" fill="none" stroke="#fff" stroke-width="6.3" stroke-linecap="butt" stroke-linejoin="round"/>
<rect x="361.5" y="15.8" width="71.5" height="82.5" fill="none" stroke="#2a2a2a" stroke-width="2"/>
<line x1="349" y1="54" x2="361.5" y2="55" stroke="#333" stroke-width="0.8"/>
<line x1="389" y1="27" x2="400" y2="24" stroke="#333" stroke-width="0.8"/>
<line x1="413" y1="36" x2="405" y2="37" stroke="#333" stroke-width="0.8"/>
<line x1="412" y1="50" x2="404" y2="46" stroke="#333" stroke-width="0.8"/>
<line x1="372" y1="65" x2="369" y2="56" stroke="#333" stroke-width="0.8"/>
<line x1="390" y1="89" x2="398" y2="90" stroke="#333" stroke-width="0.8"/>
<line x1="338.6" y1="107" x2="349.4" y2="100.7" stroke="#333" stroke-width="0.8"/>
<line x1="346" y1="118" x2="354.6" y2="112.3" stroke="#333" stroke-width="0.8"/>
<line x1="180" y1="112" x2="188" y2="124" stroke="#333" stroke-width="0.8"/>
<line x1="209" y1="101" x2="216" y2="112" stroke="#333" stroke-width="0.8"/>
<line x1="217" y1="165" x2="199" y2="165" stroke="#333" stroke-width="0.8"/>
<line x1="173" y1="221" x2="190" y2="217" stroke="#333" stroke-width="0.8"/>
<line x1="280" y1="251" x2="276" y2="262" stroke="#333" stroke-width="0.8"/>
<line x1="240" y1="313" x2="244" y2="300" stroke="#333" stroke-width="0.8"/>
<line x1="382" y1="216" x2="374" y2="205" stroke="#333" stroke-width="0.8"/>
<line x1="671" y1="151" x2="680" y2="162" stroke="#333" stroke-width="0.8"/>
<line x1="620" y1="177" x2="628" y2="190" stroke="#333" stroke-width="0.8"/>
<line x1="641" y1="173" x2="650" y2="184" stroke="#333" stroke-width="0.8"/>
<line x1="602" y1="193" x2="608" y2="204" stroke="#333" stroke-width="0.8"/>
<line x1="707" y1="198" x2="688" y2="196" stroke="#333" stroke-width="0.8"/>
<line x1="722" y1="336" x2="737" y2="340" stroke="#333" stroke-width="0.8"/>
<line x1="580" y1="317" x2="588" y2="321" stroke="#333" stroke-width="0.8"/>
<line x1="554" y1="349" x2="582" y2="343" stroke="#333" stroke-width="0.8"/>
<line x1="597" y1="370" x2="591" y2="362" stroke="#333" stroke-width="0.8"/>
<line x1="640" y1="385" x2="646" y2="378" stroke="#333" stroke-width="0.8"/>
<line x1="721" y1="433" x2="708" y2="427" stroke="#333" stroke-width="0.8"/>
<line x1="722" y1="460" x2="705" y2="452" stroke="#333" stroke-width="0.8"/>
<line x1="674" y1="461" x2="690" y2="466" stroke="#333" stroke-width="0.8"/>
<line x1="565" y1="628.6" x2="556" y2="614" stroke="#333" stroke-width="0.8"/>
<line x1="465" y1="529" x2="475" y2="515" stroke="#333" stroke-width="0.8"/>
<line x1="485" y1="538" x2="493" y2="527" stroke="#333" stroke-width="0.8"/>
<line x1="461" y1="465" x2="473" y2="481" stroke="#333" stroke-width="0.8"/>
<line x1="371" y1="446" x2="359" y2="443" stroke="#333" stroke-width="0.8"/>
<line x1="367" y1="464" x2="357" y2="460" stroke="#333" stroke-width="0.8"/>
<line x1="362" y1="477" x2="354" y2="474" stroke="#333" stroke-width="0.8"/>
<line x1="381" y1="498" x2="365" y2="512" stroke="#333" stroke-width="0.8"/>
<line x1="321" y1="494" x2="338" y2="496" stroke="#333" stroke-width="0.8"/>
<line x1="325" y1="512" x2="337" y2="514" stroke="#333" stroke-width="0.8"/>
<line x1="283" y1="561" x2="292" y2="548" stroke="#333" stroke-width="0.8"/>
<line x1="302" y1="576" x2="310" y2="563" stroke="#333" stroke-width="0.8"/>
<line x1="320" y1="587" x2="328" y2="576" stroke="#333" stroke-width="0.8"/>
<line x1="166" y1="512" x2="173" y2="490" stroke="#333" stroke-width="0.8"/>
<line x1="176" y1="405" x2="180" y2="411" stroke="#333" stroke-width="0.8"/>
<line x1="196" y1="389" x2="203" y2="395" stroke="#333" stroke-width="0.8"/>
<line x1="217" y1="377" x2="221" y2="384" stroke="#333" stroke-width="0.8"/>
<path d="M402.6,16 L402.6,98" stroke="#999" stroke-width="0.7"/>
<path d="M398,0 L407,0 L407.5,3 L402.6,5 L397.5,3 Z" fill="#333" stroke="#1a1a1a" stroke-width="1.2"/>
<ellipse cx="402.6" cy="23.4" rx="3" ry="1.5" transform="rotate(0 402.6 23.4)" fill="none" stroke="#222" stroke-width="1.1"/>
<ellipse cx="401.8" cy="37.4" rx="4.2" ry="2" fill="#fff" stroke="#222" stroke-width="1.6"/>
<ellipse cx="402.6" cy="46" rx="3" ry="1.5" transform="rotate(0 402.6 46)" fill="none" stroke="#222" stroke-width="1.1"/>
<ellipse cx="369.8" cy="51" rx="3.2" ry="5.5" transform="rotate(30 369.8 51)" fill="none" stroke="#222" stroke-width="1.1"/>
<ellipse cx="402.6" cy="90.2" rx="3.5" ry="1.8" transform="rotate(0 402.6 90.2)" fill="none" stroke="#222" stroke-width="1.1"/>
<path d="M385,58 L393,54 L398,62 L390,67 Z" fill="#555" stroke="#1a1a1a" stroke-width="1.6"/>
<ellipse cx="386" cy="62" rx="3" ry="5.5" transform="rotate(25 386 62)" fill="#333" stroke="#1a1a1a" stroke-width="2"/>
<path d="M389,57.5 L394,66 M391.5,56 L396,64.5" stroke="#ccc" stroke-width="0.8"/>
<path d="M391.4,61 L403,54 L413.5,60 L413.5,72.5 L402.2,79.5 L391.4,73 Z" fill="#fff" stroke="#1a1a1a" stroke-width="1.7"/>
<path d="M391.4,61 L402.2,66.5 L413.5,60 M402.2,66.5 L402.2,79.5" fill="none" stroke="#1a1a1a" stroke-width="0.9"/>
<ellipse cx="402.5" cy="60" rx="4.5" ry="2.2" fill="none" stroke="#333" stroke-width="0.9"/>
<ellipse cx="397" cy="69.5" rx="1.3" ry="1.8" fill="none" stroke="#555" stroke-width="0.7"/>
<path d="M396.5,77 L402.2,80 L408,77 L408,79.5 L402.2,82.5 L396.5,79.5 Z" fill="#1a1a1a" stroke="#1a1a1a" stroke-width="1"/>
<path d="M351,99.5 L355,99 L355.5,105 L351.5,105.5 Z" fill="#fff" stroke="#1a1a1a" stroke-width="1.6"/>
<path d="M347.5,95 L354,92.5 L357.5,94.5 L357,98.5 L351,100.5 L347.5,99 Z" fill="#fff" stroke="#1a1a1a" stroke-width="1.8"/>
<path d="M353,108.5 L360,107 L361.5,110.5 L356,114.5 L353.5,113.5 Z" fill="#fff" stroke="#1a1a1a" stroke-width="2"/>
<path d="M184,128 L195,124 L204,130 L204,143 L194,149 L184,143 Z" fill="#fff" stroke="#1a1a1a" stroke-width="1.7"/>
<path d="M184,128 L194,134 L204,130 M194,134 L194,149" fill="none" stroke="#1a1a1a" stroke-width="1"/>
<path d="M202,126 L210,123 L212,133 L205,136 Z" fill="#1a1a1a"/>
<ellipse cx="211" cy="127" rx="2.5" ry="4" fill="#fff" stroke="#1a1a1a" stroke-width="1.6"/>
<ellipse cx="221.5" cy="117.5" rx="2.8" ry="4.6" transform="rotate(-30 221.5 117.5)" fill="none" stroke="#222" stroke-width="1.2"/>
<path d="M213.0,124.0 L219.0,120.0" fill="none" stroke="#555" stroke-width="0.9" stroke-dasharray="2,2"/>
<ellipse cx="194" cy="165" rx="4.5" ry="2.3" fill="#fff" stroke="#222" stroke-width="1.5"/>
<path d="M194.0,150.0 L194.0,178.0" fill="none" stroke="#555" stroke-width="0.9" stroke-dasharray="3,2"/>
<path d="M396.5,121 L402.5,119 L408.5,121 L408.5,130 L402.5,132 L396.5,130 Z" fill="#fff" stroke="#1a1a1a" stroke-width="1.8"/>
<ellipse cx="402.5" cy="121" rx="5.5" ry="2.4" fill="#fff" stroke="#1a1a1a" stroke-width="1.5"/>
<path d="M402.5,123.5 L402.5,132" stroke="#444" stroke-width="0.8"/>
<path d="M480.5,192 L488,188 A5,5 0 0,1 492.5,197 L485,201 Z" fill="#fff" stroke="#1a1a1a" stroke-width="1.9"/>
<ellipse cx="482.7" cy="196.5" rx="2.6" ry="4.7" transform="rotate(-28 482.7 196.5)" fill="#fff" stroke="#1a1a1a" stroke-width="1.5"/>
<path d="M415,243.5 L422,242.5 L423,249.5 L416,251" fill="#fff" stroke="#1a1a1a" stroke-width="1.8"/>
<ellipse cx="414.5" cy="247" rx="5" ry="5" fill="#fff" stroke="#1a1a1a" stroke-width="2.3"/>
<ellipse cx="414" cy="245.5" rx="2.5" ry="2" fill="#fff" stroke="#444" stroke-width="1"/>
<line x1="424" y1="248" x2="450" y2="254" stroke="#333" stroke-width="0.8"/>
<path d="M668,174 L681,166 L686,178 L673,185 Z" fill="#fff" stroke="#1a1a1a" stroke-width="1.6"/>
<path d="M672,171 L677,182 M676,169 L681,180" stroke="#1a1a1a" stroke-width="1.2"/>
<ellipse cx="669.5" cy="179.5" rx="2" ry="4" transform="rotate(-25 669.5 179.5)" fill="#1a1a1a"/>
<path d="M680,163 L686,159.5 L693,161 L696,167 L695,174 L690,178 L684,176 L681,170 Z" fill="#fff" stroke="#1a1a1a" stroke-width="1.7"/>
<path d="M682,165 L688,163 L690,172" fill="none" stroke="#1a1a1a" stroke-width="1"/>
<ellipse cx="634" cy="198.5" rx="6.5" ry="8" transform="rotate(35 634 198.5)" fill="#fff" stroke="#1a1a1a" stroke-width="2.8"/>
<ellipse cx="634.5" cy="199" rx="2.5" ry="3" transform="rotate(35 634.5 199)" fill="#fff" stroke="#666" stroke-width="1"/>
<ellipse cx="654" cy="186" rx="2.6" ry="3.6" transform="rotate(30 654 186)" fill="none" stroke="#222" stroke-width="1.3"/>
<ellipse cx="683.7" cy="196" rx="4.7" ry="2.4" fill="#fff" stroke="#222" stroke-width="1.4"/>
<path d="M604,207 L611,202 L618,206 L619,214 L612,219 L605,215 Z" fill="#fff" stroke="#1a1a1a" stroke-width="2.4"/>
<circle cx="611.5" cy="210.5" r="3" fill="#fff" stroke="#333" stroke-width="1.6"/>
<path d="M681.0,226.0 C681.3,227.2 681.5,230.7 683.0,233.0 C684.5,235.3 688.8,238.8 690.0,240.0" fill="none" stroke="#161616" stroke-width="7.5" stroke-linecap="butt" stroke-linejoin="round"/>
<path d="M681.0,226.0 C681.3,227.2 681.5,230.7 683.0,233.0 C684.5,235.3 688.8,238.8 690.0,240.0" fill="none" stroke="#fff" stroke-width="4.5" stroke-linecap="butt" stroke-linejoin="round"/>
<path d="M674.5,219 L680,216.5 L686.5,219 L686.5,226 L681,229 L675,226 Z" fill="#fff" stroke="#1a1a1a" stroke-width="1.7"/>
<ellipse cx="680.5" cy="219" rx="5" ry="2.3" fill="#fff" stroke="#1a1a1a" stroke-width="1.3"/>
<path d="M684,236 L691,231 L698,241 L691,246 Z" fill="#fff" stroke="#1a1a1a" stroke-width="1.4"/>
<g transform="translate(723.5,387.5) rotate(20)"><path d="M-5.0,-27 L5.0,-27 L5.0,-12 L-5.0,-12 Z" fill="#fff" stroke="#161616" stroke-width="1.6"/><path d="M-5.0,-24 L5.0,-23.5" stroke="#444" stroke-width="0.8"/><path d="M-5.5,-12.5 L5.5,-12.5 L5.5,-8.5 L-5.5,-8.5 Z" fill="#fff" stroke="#161616" stroke-width="1.5"/><path d="M-5.5,-9 L5.5,-9 L5.5,-1.5 L4.0,0 L-4.0,0 L-5.5,-1.5 Z" fill="#fff" stroke="#161616" stroke-width="1.8"/><path d="M0,-8 L0,-1" stroke="#555" stroke-width="0.8"/></g>
<rect x="586" y="334.5" width="8" height="7" rx="1.5" fill="#fff" stroke="#1a1a1a" stroke-width="1.8"/>
<ellipse cx="590" cy="335.0" rx="3.8" ry="1.6" fill="#fff" stroke="#1a1a1a" stroke-width="1.3"/>
<path d="M584,341.5 L596,341.5 L596,347.5 L584,347.5 Z" fill="#2a2a2a" stroke="#1a1a1a" stroke-width="1.4"/>
<path d="M586,343.5 L594,343.5" stroke="#bbb" stroke-width="1"/>
<rect x="585.5" y="347.5" width="9" height="5" rx="1.5" fill="#fff" stroke="#1a1a1a" stroke-width="1.8"/>
<ellipse cx="591" cy="321.5" rx="3.5" ry="2" transform="rotate(0 591 321.5)" fill="none" stroke="#222" stroke-width="1.4"/>
<ellipse cx="587.4" cy="361.6" rx="3.3" ry="1.7" transform="rotate(0 587.4 361.6)" fill="none" stroke="#222" stroke-width="1.3"/>
<g transform="translate(585.5,369.5) rotate(183)"><path d="M-6.0,-28.5 L6.0,-28.5 L6.0,-12.5 L-6.0,-12.5 Z" fill="#fff" stroke="#161616" stroke-width="1.6"/><path d="M-6.0,-25.5 L6.0,-25.0" stroke="#444" stroke-width="0.8"/><path d="M-6.5,-13.0 L6.5,-13.0 L6.5,-9.0 L-6.5,-9.0 Z" fill="#fff" stroke="#161616" stroke-width="1.5"/><path d="M-6.25,-9.5 L6.25,-9.5 L6.25,-1.5 L4.75,0 L-4.75,0 L-6.25,-1.5 Z" fill="#fff" stroke="#161616" stroke-width="1.8"/><path d="M0,-8.5 L0,-1" stroke="#555" stroke-width="0.8"/></g>
<path d="M678.4,442 L684,434.2 L690.8,438.3 L691.8,445 L686.7,448 Z" fill="#fff" stroke="#1a1a1a" stroke-width="1.6"/>
<path d="M684,434.2 L685,441 L678.4,442 M685,441 L688,446" fill="none" stroke="#1a1a1a" stroke-width="0.9"/>
<path d="M695.5,441 L705.5,445 L704.5,454.5 L701,459.5 L696.5,463 L689,459.5 L687,450 L691.5,444.5 Z" fill="#fff" stroke="#1a1a1a" stroke-width="1.7"/>
<ellipse cx="701" cy="441" rx="4.5" ry="2.8" transform="rotate(20 701 441)" fill="#fff" stroke="#1a1a1a" stroke-width="2"/>
<path d="M689,458 L696,462 L695,465 L688,461 Z" fill="#1a1a1a"/>
<path d="M697,446 L692,461" stroke="#333" stroke-width="0.7"/>
<ellipse cx="706" cy="427.3" rx="3.8" ry="2" transform="rotate(15 706 427.3)" fill="none" stroke="#222" stroke-width="1.3"/>
<ellipse cx="689.7" cy="469.3" rx="3.5" ry="2" transform="rotate(15 689.7 469.3)" fill="none" stroke="#222" stroke-width="1.3"/>
<g transform="translate(686.5,476.5) rotate(190)"><path d="M-5.5,-29 L5.5,-29 L5.5,-13 L-5.5,-13 Z" fill="#fff" stroke="#161616" stroke-width="1.6"/><path d="M-5.5,-26 L5.5,-25.5" stroke="#444" stroke-width="0.8"/><path d="M-6.0,-13.5 L6.0,-13.5 L6.0,-9.5 L-6.0,-9.5 Z" fill="#fff" stroke="#161616" stroke-width="1.5"/><path d="M-6.0,-10 L6.0,-10 L6.0,-1.5 L4.5,0 L-4.5,0 L-6.0,-1.5 Z" fill="#fff" stroke="#161616" stroke-width="1.8"/><path d="M0,-9 L0,-1" stroke="#555" stroke-width="0.8"/></g>
<path d="M462,598 L470,593 L478,606 L470,612 Z" fill="#fff" stroke="#1a1a1a" stroke-width="1.5"/>
<path d="M454,593 L457,589 L463,589 L466,594 L464,600 L457,601 Z" fill="#fff" stroke="#1a1a1a" stroke-width="2"/>
<circle cx="459.5" cy="595" r="2.3" fill="#9a9a9a"/>
<path d="M462,600 L468,597 L471,601 L465,604 Z" fill="#1a1a1a"/>
<path d="M477,510 L477,518 L481.5,520.5 L487,517.5 L486.5,511" fill="#fff" stroke="#1a1a1a" stroke-width="1.7"/>
<path d="M482,503 L489,499.5 A5.2,5.2 0 0,1 493.5,508.5 L486,512.5 Z" fill="#fff" stroke="#1a1a1a" stroke-width="1.8"/>
<ellipse cx="482" cy="508" rx="4.6" ry="5.2" transform="rotate(-25 482 508)" fill="#fff" stroke="#1a1a1a" stroke-width="2"/>
<ellipse cx="482" cy="508" rx="2" ry="2.6" transform="rotate(-25 482 508)" fill="#fff" stroke="#333" stroke-width="1.2"/>
<circle cx="482" cy="516.5" r="1.4" fill="#333"/>
<path d="M494.5,519.5 L499,518.5 L502.5,521.5 L502,526.5 L497.5,527.5 L494,524.5 Z" fill="#fff" stroke="#1a1a1a" stroke-width="2.4"/>
<circle cx="498.3" cy="523" r="1.5" fill="#777"/>
<line x1="485" y1="515" x2="494" y2="521" stroke="#444" stroke-width="0.7"/>
<path d="M366,520 L372,514 L380,517 L381,526 L375,530 L368,528 Z" fill="#fff" stroke="#1a1a1a" stroke-width="1.7"/>
<path d="M377.0,527.0 C377.8,528.2 381.3,531.7 382.0,534.0 C382.7,536.3 381.2,539.8 381.0,541.0" fill="none" stroke="#161616" stroke-width="9" stroke-linecap="butt" stroke-linejoin="round"/>
<path d="M377.0,527.0 C377.8,528.2 381.3,531.7 382.0,534.0 C382.7,536.3 381.2,539.8 381.0,541.0" fill="none" stroke="#fff" stroke-width="6.0" stroke-linecap="butt" stroke-linejoin="round"/>
<path d="M375,540 L387,541 L386,558 L374,557 Z" fill="#fff" stroke="#1a1a1a" stroke-width="1.6"/>
<rect x="345" y="450" width="8" height="7" rx="1.5" fill="#fff" stroke="#1a1a1a" stroke-width="1.8"/>
<ellipse cx="349" cy="450.5" rx="3.8" ry="1.6" fill="#fff" stroke="#1a1a1a" stroke-width="1.3"/>
<path d="M343,457 L355,457 L355,463 L343,463 Z" fill="#2a2a2a" stroke="#1a1a1a" stroke-width="1.4"/>
<path d="M345,459 L353,459" stroke="#bbb" stroke-width="1"/>
<rect x="344.5" y="463" width="9" height="5" rx="1.5" fill="#fff" stroke="#1a1a1a" stroke-width="1.8"/>
<ellipse cx="350.3" cy="442.5" rx="4" ry="2.3" transform="rotate(0 350.3 442.5)" fill="none" stroke="#222" stroke-width="1.4"/>
<ellipse cx="347.1" cy="473.6" rx="3.2" ry="1.8" transform="rotate(0 347.1 473.6)" fill="none" stroke="#222" stroke-width="1.3"/>
<path d="M340.5,482 L346,480 L351.5,482 L350.5,492 L345,494 L339.5,492 Z" fill="#fff" stroke="#1a1a1a" stroke-width="1.9"/>
<ellipse cx="346" cy="482" rx="5.3" ry="2" fill="#fff" stroke="#1a1a1a" stroke-width="1.5"/>
<path d="M339.5,492 L351,492 L353.5,500 L352.5,508 L346,512 L337.5,510 L335.5,500 Z" fill="#fff" stroke="#1a1a1a" stroke-width="1.9"/>
<path d="M349,502 L355.5,501 L356,509 L350,511 Z" fill="#1a1a1a"/>
<path d="M337.5,509 L346,511.5 L345,514.5 L337,512.5 Z" fill="#1a1a1a"/>
<path d="M344,494 L342,509" stroke="#444" stroke-width="0.7"/>
<ellipse cx="340.5" cy="519.5" rx="3.5" ry="1.9" transform="rotate(0 340.5 519.5)" fill="none" stroke="#222" stroke-width="1.3"/>
<ellipse cx="362.6" cy="514.5" rx="2.4" ry="2" transform="rotate(0 362.6 514.5)" fill="none" stroke="#222" stroke-width="1.3"/>
<line x1="176" y1="414" x2="223" y2="388" stroke="#888" stroke-width="0.7"/>
<g transform="translate(202,401) rotate(-28)"><rect x="-11" y="-4.5" width="8" height="9" rx="1" fill="#222" stroke="#1a1a1a" stroke-width="1.2"/><path d="M-9,-4.5 L-9,4.5 M-6.5,-4.5 L-6.5,4.5" stroke="#aaa" stroke-width="0.8"/><path d="M-3,-7 L7,-7 L9,-4 L9,4 L7,7 L-3,7 L-5,4 L-5,-4 Z" fill="#fff" stroke="#1a1a1a" stroke-width="1.9"/><path d="M-3,-7 L-3,7 M3,-7 L3,7" stroke="#1a1a1a" stroke-width="1"/><ellipse cx="9" cy="0" rx="1.8" ry="4" fill="#fff" stroke="#1a1a1a" stroke-width="1.3"/></g>
<ellipse cx="223.5" cy="388.5" rx="5.3" ry="4.8" transform="rotate(-20 223.5 388.5)" fill="#fff" stroke="#333" stroke-width="1.9"/>
<ellipse cx="224" cy="388.5" rx="2.5" ry="2.2" fill="#fff" stroke="#888" stroke-width="0.9"/>
<ellipse cx="181" cy="413.7" rx="2.5" ry="2" transform="rotate(0 181 413.7)" fill="none" stroke="#222" stroke-width="1.2"/>
<path d="M163.0,425.0 C161.8,426.2 157.8,429.3 156.0,432.0 C154.2,434.7 153.1,439.5 152.5,441.0" fill="none" stroke="#161616" stroke-width="7.5" stroke-linecap="butt" stroke-linejoin="round"/>
<path d="M163.0,425.0 C161.8,426.2 157.8,429.3 156.0,432.0 C154.2,434.7 153.1,439.5 152.5,441.0" fill="none" stroke="#fff" stroke-width="4.5" stroke-linecap="butt" stroke-linejoin="round"/>
<path d="M160.5,420 L166,414.5 L173,417 L174.5,424 L169,429.5 L162,427 Z" fill="#fff" stroke="#1a1a1a" stroke-width="1.7"/>
<path d="M166,414.5 L168,423 L174.5,424 M168,423 L162,427" fill="none" stroke="#1a1a1a" stroke-width="0.8"/>
<path d="M147,440 L158.5,440 L158.5,459.5 L147,459.5 Z" fill="#fff" stroke="#1a1a1a" stroke-width="1.6"/>
<path d="M147,444 L158.5,444" stroke="#1a1a1a" stroke-width="1.2"/>
<ellipse cx="213" cy="519.5" rx="9.5" ry="12.5" fill="#fff" stroke="#1a1a1a" stroke-width="1.7"/>
<path d="M204,495 L216.5,495 L216.5,518 L204,518 Z" fill="#fff" stroke="#1a1a1a" stroke-width="1.6"/>
<path d="M204,488 L210,486.5 L216.5,488 L216.5,496 L210,497.5 L204,496 Z" fill="#fff" stroke="#1a1a1a" stroke-width="1.7"/>
<path d="M204,499 L216.5,499" stroke="#1a1a1a" stroke-width="1.1"/>
<ellipse cx="210" cy="488" rx="5.5" ry="2" fill="#fff" stroke="#1a1a1a" stroke-width="1.1"/>
<rect x="212" y="518" width="2" height="3" fill="#1a1a1a"/>
<path d="M306,552 L313,546 L330,560 L327,568 L318,570 L305,558 Z" fill="#fff" stroke="#1a1a1a" stroke-width="1.8"/>
<path d="M302,549 L308,545 L311,552 L305,556 Z" fill="#1a1a1a"/>
<ellipse cx="293" cy="542.5" rx="2.5" ry="2" transform="rotate(0 293 542.5)" fill="none" stroke="#222" stroke-width="1.2"/>
<ellipse cx="331" cy="571.5" rx="2.5" ry="2" transform="rotate(0 331 571.5)" fill="none" stroke="#222" stroke-width="1.2"/>
<circle cx="246" cy="295.3" r="4.3" fill="#fff" stroke="#666" stroke-width="1.7"/>
<circle cx="380.7" cy="28.3" r="8.8" fill="#e0e0e0" stroke="#b4b4b4" stroke-width="0.9"/>
<text x="380.7" y="32.5" font-size="11.8" text-anchor="middle" font-weight="bold" fill="#262626" textLength="11.6" lengthAdjust="spacingAndGlyphs">35</text>
<circle cx="422.3" cy="34.4" r="8.8" fill="#e0e0e0" stroke="#b4b4b4" stroke-width="0.9"/>
<text x="422.3" y="38.6" font-size="11.8" text-anchor="middle" font-weight="bold" fill="#262626" textLength="11.6" lengthAdjust="spacingAndGlyphs">10</text>
<circle cx="382.0" cy="89.5" r="8.8" fill="#e0e0e0" stroke="#b4b4b4" stroke-width="0.9"/>
<text x="382.0" y="93.7" font-size="11.8" text-anchor="middle" font-weight="bold" fill="#262626" textLength="11.6" lengthAdjust="spacingAndGlyphs">10</text>
<circle cx="338.5" cy="122.6" r="8.8" fill="#e0e0e0" stroke="#b4b4b4" stroke-width="0.9"/>
<text x="338.5" y="126.8" font-size="11.8" text-anchor="middle" font-weight="bold" fill="#262626" textLength="11.6" lengthAdjust="spacingAndGlyphs">18</text>
<circle cx="225.2" cy="165.6" r="8.8" fill="#e0e0e0" stroke="#b4b4b4" stroke-width="0.9"/>
<text x="225.2" y="169.8" font-size="11.8" text-anchor="middle" font-weight="bold" fill="#262626" textLength="11.6" lengthAdjust="spacingAndGlyphs">34</text>
<circle cx="280.5" cy="242.8" r="8.8" fill="#e0e0e0" stroke="#b4b4b4" stroke-width="0.9"/>
<text x="280.5" y="247.0" font-size="11.8" text-anchor="middle" font-weight="bold" fill="#262626" textLength="11.6" lengthAdjust="spacingAndGlyphs">16</text>
<circle cx="382.4" cy="224.7" r="8.8" fill="#e0e0e0" stroke="#b4b4b4" stroke-width="0.9"/>
<text x="382.4" y="228.9" font-size="11.8" text-anchor="middle" font-weight="bold" fill="#262626" textLength="11.6" lengthAdjust="spacingAndGlyphs">29</text>
<circle cx="445.0" cy="145.6" r="8.8" fill="#e0e0e0" stroke="#b4b4b4" stroke-width="0.9"/>
<text x="445.0" y="149.8" font-size="11.8" text-anchor="middle" font-weight="bold" fill="#262626" textLength="11.6" lengthAdjust="spacingAndGlyphs">11</text>
<circle cx="671.1" cy="142.2" r="8.8" fill="#e0e0e0" stroke="#b4b4b4" stroke-width="0.9"/>
<text x="671.1" y="146.4" font-size="11.8" text-anchor="middle" font-weight="bold" fill="#262626" textLength="11.6" lengthAdjust="spacingAndGlyphs">20</text>
<circle cx="618.7" cy="168.8" r="8.8" fill="#e0e0e0" stroke="#b4b4b4" stroke-width="0.9"/>
<text x="618.7" y="173.0" font-size="11.8" text-anchor="middle" font-weight="bold" fill="#262626" textLength="11.6" lengthAdjust="spacingAndGlyphs">33</text>
<circle cx="641.2" cy="164.7" r="8.8" fill="#e0e0e0" stroke="#b4b4b4" stroke-width="0.9"/>
<text x="641.2" y="168.9" font-size="11.8" text-anchor="middle" font-weight="bold" fill="#262626" textLength="11.6" lengthAdjust="spacingAndGlyphs">10</text>
<circle cx="599.2" cy="185.4" r="8.8" fill="#e0e0e0" stroke="#b4b4b4" stroke-width="0.9"/>
<text x="599.2" y="189.6" font-size="11.8" text-anchor="middle" font-weight="bold" fill="#262626" textLength="11.6" lengthAdjust="spacingAndGlyphs">21</text>
<circle cx="715.3" cy="198.7" r="8.8" fill="#e0e0e0" stroke="#b4b4b4" stroke-width="0.9"/>
<text x="715.3" y="202.9" font-size="11.8" text-anchor="middle" font-weight="bold" fill="#262626" textLength="11.6" lengthAdjust="spacingAndGlyphs">10</text>
<circle cx="713.4" cy="333.9" r="8.8" fill="#e0e0e0" stroke="#b4b4b4" stroke-width="0.9"/>
<text x="713.4" y="338.1" font-size="11.8" text-anchor="middle" font-weight="bold" fill="#262626" textLength="11.6" lengthAdjust="spacingAndGlyphs">12</text>
<circle cx="571.6" cy="314.0" r="8.8" fill="#e0e0e0" stroke="#b4b4b4" stroke-width="0.9"/>
<text x="571.6" y="318.2" font-size="11.8" text-anchor="middle" font-weight="bold" fill="#262626" textLength="11.6" lengthAdjust="spacingAndGlyphs">32</text>
<circle cx="545.1" cy="351.0" r="8.8" fill="#e0e0e0" stroke="#b4b4b4" stroke-width="0.9"/>
<text x="545.1" y="355.2" font-size="11.8" text-anchor="middle" font-weight="bold" fill="#262626" textLength="11.6" lengthAdjust="spacingAndGlyphs">22</text>
<circle cx="605.5" cy="373.3" r="8.8" fill="#e0e0e0" stroke="#b4b4b4" stroke-width="0.9"/>
<text x="605.5" y="377.5" font-size="11.8" text-anchor="middle" font-weight="bold" fill="#262626" textLength="11.6" lengthAdjust="spacingAndGlyphs">10</text>
<circle cx="632.5" cy="390.5" r="8.8" fill="#e0e0e0" stroke="#b4b4b4" stroke-width="0.9"/>
<text x="632.5" y="394.7" font-size="11.8" text-anchor="middle" font-weight="bold" fill="#262626" textLength="11.6" lengthAdjust="spacingAndGlyphs">32</text>
<circle cx="732.1" cy="434.5" r="8.8" fill="#e0e0e0" stroke="#b4b4b4" stroke-width="0.9"/>
<text x="732.1" y="438.7" font-size="11.8" text-anchor="middle" font-weight="bold" fill="#262626" textLength="11.6" lengthAdjust="spacingAndGlyphs">10</text>
<circle cx="666.0" cy="460.0" r="8.8" fill="#e0e0e0" stroke="#b4b4b4" stroke-width="0.9"/>
<text x="666.0" y="464.2" font-size="11.8" text-anchor="middle" font-weight="bold" fill="#262626" textLength="11.6" lengthAdjust="spacingAndGlyphs">10</text>
<circle cx="569.9" cy="635.7" r="8.8" fill="#e0e0e0" stroke="#b4b4b4" stroke-width="0.9"/>
<text x="569.9" y="639.9" font-size="11.8" text-anchor="middle" font-weight="bold" fill="#262626" textLength="11.6" lengthAdjust="spacingAndGlyphs">13</text>
<circle cx="461.2" cy="537.0" r="8.8" fill="#e0e0e0" stroke="#b4b4b4" stroke-width="0.9"/>
<text x="461.2" y="541.2" font-size="11.8" text-anchor="middle" font-weight="bold" fill="#262626" textLength="11.6" lengthAdjust="spacingAndGlyphs">14</text>
<circle cx="481.7" cy="546.0" r="8.8" fill="#e0e0e0" stroke="#b4b4b4" stroke-width="0.9"/>
<text x="481.7" y="550.2" font-size="11.8" text-anchor="middle" font-weight="bold" fill="#262626" textLength="11.6" lengthAdjust="spacingAndGlyphs">15</text>
<circle cx="459.0" cy="456.6" r="8.8" fill="#e0e0e0" stroke="#b4b4b4" stroke-width="0.9"/>
<text x="459.0" y="460.8" font-size="11.8" text-anchor="middle" font-weight="bold" fill="#262626" textLength="11.6" lengthAdjust="spacingAndGlyphs">23</text>
<circle cx="380.0" cy="446.9" r="8.8" fill="#e0e0e0" stroke="#b4b4b4" stroke-width="0.9"/>
<text x="380.0" y="451.1" font-size="11.8" text-anchor="middle" font-weight="bold" fill="#262626" textLength="11.6" lengthAdjust="spacingAndGlyphs">32</text>
<circle cx="375.9" cy="464.8" r="8.8" fill="#e0e0e0" stroke="#b4b4b4" stroke-width="0.9"/>
<text x="375.9" y="469.0" font-size="11.8" text-anchor="middle" font-weight="bold" fill="#262626" textLength="11.6" lengthAdjust="spacingAndGlyphs">22</text>
<circle cx="369.7" cy="478.6" r="8.8" fill="#e0e0e0" stroke="#b4b4b4" stroke-width="0.9"/>
<text x="369.7" y="482.8" font-size="11.8" text-anchor="middle" font-weight="bold" fill="#262626" textLength="11.6" lengthAdjust="spacingAndGlyphs">10</text>
<circle cx="384.5" cy="490.7" r="8.8" fill="#e0e0e0" stroke="#b4b4b4" stroke-width="0.9"/>
<text x="384.5" y="494.9" font-size="11.8" text-anchor="middle" font-weight="bold" fill="#262626" textLength="11.6" lengthAdjust="spacingAndGlyphs">10</text>
<circle cx="313.1" cy="494.1" r="8.8" fill="#e0e0e0" stroke="#b4b4b4" stroke-width="0.9"/>
<text x="313.1" y="498.3" font-size="11.8" text-anchor="middle" font-weight="bold" fill="#262626" textLength="11.6" lengthAdjust="spacingAndGlyphs">28</text>
<circle cx="318.3" cy="513.8" r="8.8" fill="#e0e0e0" stroke="#b4b4b4" stroke-width="0.9"/>
<text x="318.3" y="518.0" font-size="11.8" text-anchor="middle" font-weight="bold" fill="#262626" textLength="11.6" lengthAdjust="spacingAndGlyphs">10</text>
<circle cx="279.3" cy="569.0" r="8.8" fill="#e0e0e0" stroke="#b4b4b4" stroke-width="0.9"/>
<text x="279.3" y="573.2" font-size="11.8" text-anchor="middle" font-weight="bold" fill="#262626" textLength="11.6" lengthAdjust="spacingAndGlyphs">32</text>
<circle cx="298.3" cy="584.8" r="8.8" fill="#e0e0e0" stroke="#b4b4b4" stroke-width="0.9"/>
<text x="298.3" y="589.0" font-size="11.8" text-anchor="middle" font-weight="bold" fill="#262626" textLength="11.6" lengthAdjust="spacingAndGlyphs">19</text>
<circle cx="317.2" cy="594.1" r="8.8" fill="#e0e0e0" stroke="#b4b4b4" stroke-width="0.9"/>
<text x="317.2" y="598.3" font-size="11.8" text-anchor="middle" font-weight="bold" fill="#262626" textLength="11.6" lengthAdjust="spacingAndGlyphs">10</text>
<circle cx="163.2" cy="520.4" r="8.8" fill="#e0e0e0" stroke="#b4b4b4" stroke-width="0.9"/>
<text x="163.2" y="524.6" font-size="11.8" text-anchor="middle" font-weight="bold" fill="#262626" textLength="11.6" lengthAdjust="spacingAndGlyphs">24</text>
<circle cx="173.0" cy="396.8" r="8.8" fill="#e0e0e0" stroke="#b4b4b4" stroke-width="0.9"/>
<text x="173.0" y="401.0" font-size="11.8" text-anchor="middle" font-weight="bold" fill="#262626" textLength="11.6" lengthAdjust="spacingAndGlyphs">10</text>
<circle cx="190.7" cy="381.1" r="8.8" fill="#e0e0e0" stroke="#b4b4b4" stroke-width="0.9"/>
<text x="190.7" y="385.3" font-size="11.8" text-anchor="middle" font-weight="bold" fill="#262626" textLength="11.6" lengthAdjust="spacingAndGlyphs">26</text>
<circle cx="213.6" cy="370.7" r="8.8" fill="#e0e0e0" stroke="#b4b4b4" stroke-width="0.9"/>
<text x="213.6" y="374.9" font-size="11.8" text-anchor="middle" font-weight="bold" fill="#262626" textLength="11.6" lengthAdjust="spacingAndGlyphs">27</text>
<circle cx="423.6" cy="55.4" r="8.8" fill="#e0e0e0" stroke="#b4b4b4" stroke-width="0.9"/>
<text x="421.3" y="56.6" font-size="11.8" text-anchor="middle" font-weight="bold" fill="#262626" textLength="11.6" lengthAdjust="spacingAndGlyphs">25</text>
<circle cx="342.0" cy="54.3" r="5.6" fill="#e0e0e0" stroke="#b4b4b4" stroke-width="0.9"/>
<text x="342.0" y="58.3" font-size="11" text-anchor="middle" font-weight="bold" fill="#262626">4</text>
<circle cx="370.6" cy="71.8" r="5.6" fill="#e0e0e0" stroke="#b4b4b4" stroke-width="0.9"/>
<text x="370.6" y="75.8" font-size="11" text-anchor="middle" font-weight="bold" fill="#262626">3</text>
<circle cx="333.8" cy="109.5" r="5.6" fill="#e0e0e0" stroke="#b4b4b4" stroke-width="0.9"/>
<text x="333.8" y="113.5" font-size="11" text-anchor="middle" font-weight="bold" fill="#262626">6</text>
<circle cx="176.2" cy="107.5" r="5.6" fill="#e0e0e0" stroke="#b4b4b4" stroke-width="0.9"/>
<text x="176.2" y="111.5" font-size="11" text-anchor="middle" font-weight="bold" fill="#262626">7</text>
<circle cx="205.0" cy="96.3" r="5.6" fill="#e0e0e0" stroke="#b4b4b4" stroke-width="0.9"/>
<text x="205.0" y="100.3" font-size="11" text-anchor="middle" font-weight="bold" fill="#262626">3</text>
<circle cx="166.8" cy="221.2" r="5.6" fill="#e0e0e0" stroke="#b4b4b4" stroke-width="0.9"/>
<text x="166.8" y="225.2" font-size="11" text-anchor="middle" font-weight="bold" fill="#262626">8</text>
<circle cx="238.4" cy="319.4" r="5.6" fill="#e0e0e0" stroke="#b4b4b4" stroke-width="0.9"/>
<text x="238.4" y="323.4" font-size="11" text-anchor="middle" font-weight="bold" fill="#262626">1</text>
<circle cx="729.8" cy="461.0" r="5.6" fill="#e0e0e0" stroke="#b4b4b4" stroke-width="0.9"/>
<text x="729.8" y="465.0" font-size="11" text-anchor="middle" font-weight="bold" fill="#262626">9</text>
<circle cx="456.0" cy="256.5" r="8.8" fill="#e0e0e0" stroke="#b4b4b4" stroke-width="0.9"/>
<text x="456.0" y="260.7" font-size="11.8" text-anchor="middle" font-weight="bold" fill="#262626" textLength="11.6" lengthAdjust="spacingAndGlyphs">16</text>
<defs><linearGradient id="wl" x1="0" x2="1" y1="0" y2="0"><stop offset="0" stop-color="#fff" stop-opacity="0.35"/><stop offset="0.3" stop-color="#fff" stop-opacity="0.55"/><stop offset="1" stop-color="#fff" stop-opacity="0.75"/></linearGradient><linearGradient id="wr" x1="0" x2="1" y1="0" y2="0"><stop offset="0" stop-color="#fff" stop-opacity="0.75"/><stop offset="0.7" stop-color="#fff" stop-opacity="0.5"/><stop offset="1" stop-color="#fff" stop-opacity="0.3"/></linearGradient></defs>
<rect x="232" y="254" width="40" height="130.5" fill="url(#wl)"/>
<rect x="510" y="254" width="28" height="130.5" fill="url(#wr)"/>
<rect x="272" y="254" width="238" height="130.5" fill="#fff"/>
<path d="M372,336 L500,338 L506,352 L505,376 L470,381 L380,377 L372,360 Z" fill="#f0f0f0" stroke="#fff" stroke-width="1.6" stroke-linejoin="round"/>
<circle cx="494.5" cy="353" r="14" fill="#e4e4e4" stroke="#fff" stroke-width="1.6" stroke-linejoin="round"/>
<path d="M484,345 L505,360" stroke="#fff" stroke-width="1.5"/>
<path d="M430,283 L447,287 L472,291 L500,302 L503.5,313 L492,320 L492,338 L430,336 Z" fill="#e6e6e6" stroke="#fff" stroke-width="1.6" stroke-linejoin="round"/>
<path d="M445,300 L500,310" stroke="#fff" stroke-width="1.6"/>
<path d="M448,316 L490,322" stroke="#fff" stroke-width="1.4"/>
<path d="M447.5,255.5 L471.6,263 L471.6,290.5 L447.5,287 Z" fill="#ebebeb" stroke="#fff" stroke-width="1.6" stroke-linejoin="round"/>
<path d="M452,258 L452,288 M456.5,259 L456.5,289 M461,260.5 L461,289.5 M466,262 L466,290" stroke="#fff" stroke-width="1.2"/>
<path d="M405,266.5 L419,272 L419,280 L405,278.5 Z" fill="#e3e3e3" stroke="#fff" stroke-width="1.6" stroke-linejoin="round"/>
<path d="M419,272 L440,272 L447,280 L447,290 L425,284 Z" fill="#e0e0e0" stroke="#fff" stroke-width="1.6" stroke-linejoin="round"/>
<path d="M387,283 L432,280.5 L436,287 L428,322 L392,322 L388,288 Z" fill="#e9e9e9" stroke="#fff" stroke-width="1.6" stroke-linejoin="round"/>
<path d="M392,289 L404,288 L400,321 L394,321 Z" fill="#f4f4f4"/>
<path d="M407,288 L428,287 L422,320 L408,320 Z" fill="#dedede"/>
<path d="M374,297 L390,290" stroke="#e2e2e2" stroke-width="2.2"/>
<path d="M375,297 L376,312" stroke="#e6e6e6" stroke-width="1.8"/>
<path d="M392,322 L492,324 L495,336 L380,336 Z" fill="#e8e8e8" stroke="#fff" stroke-width="1.6" stroke-linejoin="round"/>
<clipPath id="gclip"><path d="M260,250 L400,250 L400,326 C350,326 310,328 270,336 L270,350 L314,350 L314,380 L260,380 Z"/></clipPath>
<g clip-path="url(#gclip)"><path d="M340.5,329 A32,32 0 1,0 276.5,329 A32,32 0 1,0 340.5,329 Z M326.5,325 A22,22 0 1,1 282.5,325 A22,22 0 1,1 326.5,325 Z" fill="#adadad" fill-rule="evenodd"/><path d="M312.5,298.0 L311.1,292.0 L305.9,292.0 L304.5,298.0 Z M322.4,301.0 L323.0,294.9 L318.1,293.2 L314.8,298.4 Z M330.7,307.0 L333.3,301.4 L329.2,298.2 L324.4,302.1 Z M336.7,315.5 L340.9,311.0 L338.1,306.7 L332.3,308.8 Z M339.5,325.4 L345.0,322.6 L343.8,317.5 L337.6,317.6 Z M339.0,335.7 L345.1,334.8 L345.6,329.6 L339.7,327.7 Z M335.2,345.3 L341.2,346.4 L343.4,341.7 L338.4,338.0 Z M328.4,353.1 L333.8,356.1 L337.3,352.3 L333.9,347.2 Z M319.5,358.2 L323.6,362.9 L328.2,360.4 L326.6,354.5 Z M309.4,360.2 L311.7,366.0 L316.9,365.1 L317.3,359.0 Z M299.2,358.8 L299.5,365.0 L304.6,365.9 L307.1,360.2 Z M290.0,354.2 L288.3,360.1 L292.8,362.6 L297.0,358.1 Z M282.8,346.8 L279.3,351.8 L282.7,355.7 L288.1,352.7 Z M278.4,337.4 L273.4,341.1 L275.5,345.9 L281.5,344.8 Z M277.3,327.2 L271.4,329.0 L271.8,334.2 L277.9,335.2 Z M279.6,317.1 L273.4,316.9 L272.1,321.9 L277.5,324.8 Z M285.0,308.3 L279.3,306.2 L276.4,310.5 L280.6,315.0 Z M293.0,301.8 L288.3,297.9 L284.2,301.0 L286.6,306.6 Z M302.7,298.3 L299.5,293.0 L294.6,294.6 L295.1,300.8 Z " fill="#adadad"/></g>
<path d="M276,340 L314,336 L314,366 C296,366 282,356 276,346 Z" fill="#a0a0a0"/>
<path d="M273,334 C300,328 340,325 388,324.5 L388,331 C345,331 305,337 276,350 Z" fill="#fff"/>
<path d="M274.0,335.0 C305,329.0 345,325.5 388,325.5" fill="none" stroke="#c4c4c4" stroke-width="1.5"/>
<path d="M274.6,338.0 C305,331.6 345,326.7 388,326.7" fill="none" stroke="#b8b8b8" stroke-width="1.5"/>
<path d="M275.2,341.0 C305,334.2 345,327.9 388,327.9" fill="none" stroke="#c0c0c0" stroke-width="1.5"/>
<path d="M275.8,344.0 C305,336.8 345,329.1 388,329.1" fill="none" stroke="#b4b4b4" stroke-width="1.5"/>
<path d="M276.4,347.0 C305,339.4 345,330.3 388,330.3" fill="none" stroke="#c8c8c8" stroke-width="1.5"/>
<text x="389.5" y="334.3" font-family="Liberation Serif, serif" font-size="14.5" fill="#8a8a8a" stroke="#8a8a8a" stroke-width="0.4" textLength="33" lengthAdjust="spacingAndGlyphs">ООО</text>
<text x="312" y="365" font-family="Liberation Serif, serif" font-weight="bold" font-size="37" fill="#fff" stroke="#fff" stroke-width="2.4" textLength="177" lengthAdjust="spacingAndGlyphs">АГРОСНАБ</text>
<text x="312" y="365" font-family="Liberation Serif, serif" font-weight="bold" font-size="37" fill="#8c8c8c" stroke="#8c8c8c" stroke-width="0.5" textLength="177" lengthAdjust="spacingAndGlyphs">АГРОСНАБ</text>
</svg></body></html>
